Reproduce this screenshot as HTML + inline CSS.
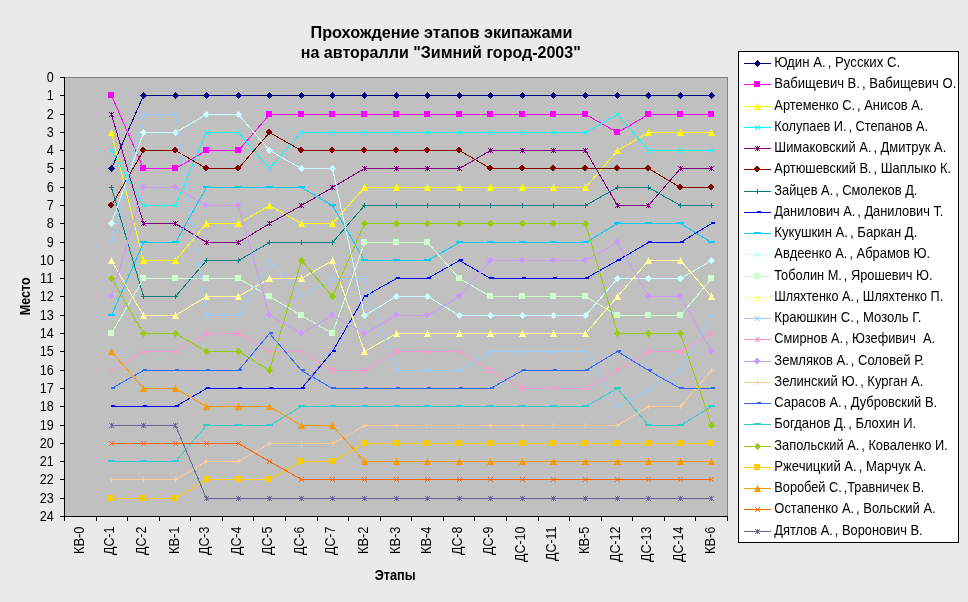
<!DOCTYPE html>
<html lang="ru"><head><meta charset="utf-8"><title>Прохождение этапов экипажами</title>
<style>html,body{margin:0;padding:0;background:#EAEAEA;}body{width:968px;height:602px;overflow:hidden}svg{display:block}</style>
</head><body>
<svg width="968" height="602" viewBox="0 0 968 602" font-family="'Liberation Sans', sans-serif" font-size="13.9" fill="#000">
<rect width="968" height="602" fill="#EAEAEA"/>
<rect x="64" y="77" width="664" height="440" fill="#C0C0C0"/>
<g shape-rendering="crispEdges">
<rect x="64.5" y="77.5" width="663" height="439" fill="none" stroke="#808080"/>
<rect x="64" y="77" width="1" height="440" fill="#000"/>
<rect x="64" y="516" width="664" height="1" fill="#000"/>
<rect x="60" y="77" width="4" height="1" fill="#000"/>
<rect x="60" y="95" width="4" height="1" fill="#000"/>
<rect x="60" y="114" width="4" height="1" fill="#000"/>
<rect x="60" y="132" width="4" height="1" fill="#000"/>
<rect x="60" y="150" width="4" height="1" fill="#000"/>
<rect x="60" y="168" width="4" height="1" fill="#000"/>
<rect x="60" y="187" width="4" height="1" fill="#000"/>
<rect x="60" y="205" width="4" height="1" fill="#000"/>
<rect x="60" y="223" width="4" height="1" fill="#000"/>
<rect x="60" y="242" width="4" height="1" fill="#000"/>
<rect x="60" y="260" width="4" height="1" fill="#000"/>
<rect x="60" y="278" width="4" height="1" fill="#000"/>
<rect x="60" y="296" width="4" height="1" fill="#000"/>
<rect x="60" y="315" width="4" height="1" fill="#000"/>
<rect x="60" y="333" width="4" height="1" fill="#000"/>
<rect x="60" y="351" width="4" height="1" fill="#000"/>
<rect x="60" y="370" width="4" height="1" fill="#000"/>
<rect x="60" y="388" width="4" height="1" fill="#000"/>
<rect x="60" y="406" width="4" height="1" fill="#000"/>
<rect x="60" y="425" width="4" height="1" fill="#000"/>
<rect x="60" y="443" width="4" height="1" fill="#000"/>
<rect x="60" y="461" width="4" height="1" fill="#000"/>
<rect x="60" y="479" width="4" height="1" fill="#000"/>
<rect x="60" y="498" width="4" height="1" fill="#000"/>
<rect x="60" y="516" width="4" height="1" fill="#000"/>
<rect x="64" y="516" width="1" height="5" fill="#000"/>
<rect x="96" y="516" width="1" height="5" fill="#000"/>
<rect x="127" y="516" width="1" height="5" fill="#000"/>
<rect x="159" y="516" width="1" height="5" fill="#000"/>
<rect x="190" y="516" width="1" height="5" fill="#000"/>
<rect x="222" y="516" width="1" height="5" fill="#000"/>
<rect x="253" y="516" width="1" height="5" fill="#000"/>
<rect x="285" y="516" width="1" height="5" fill="#000"/>
<rect x="317" y="516" width="1" height="5" fill="#000"/>
<rect x="348" y="516" width="1" height="5" fill="#000"/>
<rect x="380" y="516" width="1" height="5" fill="#000"/>
<rect x="411" y="516" width="1" height="5" fill="#000"/>
<rect x="443" y="516" width="1" height="5" fill="#000"/>
<rect x="474" y="516" width="1" height="5" fill="#000"/>
<rect x="506" y="516" width="1" height="5" fill="#000"/>
<rect x="538" y="516" width="1" height="5" fill="#000"/>
<rect x="569" y="516" width="1" height="5" fill="#000"/>
<rect x="601" y="516" width="1" height="5" fill="#000"/>
<rect x="632" y="516" width="1" height="5" fill="#000"/>
<rect x="664" y="516" width="1" height="5" fill="#000"/>
<rect x="695" y="516" width="1" height="5" fill="#000"/>
<rect x="727" y="516" width="1" height="5" fill="#000"/>
<polyline points="111.5,168.5 143.5,95.5 175.5,95.5 206.5,95.5 238.5,95.5 269.5,95.5 301.5,95.5 332.5,95.5 364.5,95.5 396.5,95.5 427.5,95.5 459.5,95.5 490.5,95.5 522.5,95.5 553.5,95.5 585.5,95.5 617.5,95.5 648.5,95.5 680.5,95.5 711.5,95.5" fill="none" stroke="#000080" stroke-width="1"/>
<path fill="#000080" d="M111 165h1v1h-1zM110 166h3v1h-3zM109 167h5v1h-5zM108 168h7v1h-7zM109 169h5v1h-5zM110 170h3v1h-3zM111 171h1v1h-1z"/>
<path fill="#000080" d="M143 92h1v1h-1zM142 93h3v1h-3zM141 94h5v1h-5zM140 95h7v1h-7zM141 96h5v1h-5zM142 97h3v1h-3zM143 98h1v1h-1z"/>
<path fill="#000080" d="M175 92h1v1h-1zM174 93h3v1h-3zM173 94h5v1h-5zM172 95h7v1h-7zM173 96h5v1h-5zM174 97h3v1h-3zM175 98h1v1h-1z"/>
<path fill="#000080" d="M206 92h1v1h-1zM205 93h3v1h-3zM204 94h5v1h-5zM203 95h7v1h-7zM204 96h5v1h-5zM205 97h3v1h-3zM206 98h1v1h-1z"/>
<path fill="#000080" d="M238 92h1v1h-1zM237 93h3v1h-3zM236 94h5v1h-5zM235 95h7v1h-7zM236 96h5v1h-5zM237 97h3v1h-3zM238 98h1v1h-1z"/>
<path fill="#000080" d="M269 92h1v1h-1zM268 93h3v1h-3zM267 94h5v1h-5zM266 95h7v1h-7zM267 96h5v1h-5zM268 97h3v1h-3zM269 98h1v1h-1z"/>
<path fill="#000080" d="M301 92h1v1h-1zM300 93h3v1h-3zM299 94h5v1h-5zM298 95h7v1h-7zM299 96h5v1h-5zM300 97h3v1h-3zM301 98h1v1h-1z"/>
<path fill="#000080" d="M332 92h1v1h-1zM331 93h3v1h-3zM330 94h5v1h-5zM329 95h7v1h-7zM330 96h5v1h-5zM331 97h3v1h-3zM332 98h1v1h-1z"/>
<path fill="#000080" d="M364 92h1v1h-1zM363 93h3v1h-3zM362 94h5v1h-5zM361 95h7v1h-7zM362 96h5v1h-5zM363 97h3v1h-3zM364 98h1v1h-1z"/>
<path fill="#000080" d="M396 92h1v1h-1zM395 93h3v1h-3zM394 94h5v1h-5zM393 95h7v1h-7zM394 96h5v1h-5zM395 97h3v1h-3zM396 98h1v1h-1z"/>
<path fill="#000080" d="M427 92h1v1h-1zM426 93h3v1h-3zM425 94h5v1h-5zM424 95h7v1h-7zM425 96h5v1h-5zM426 97h3v1h-3zM427 98h1v1h-1z"/>
<path fill="#000080" d="M459 92h1v1h-1zM458 93h3v1h-3zM457 94h5v1h-5zM456 95h7v1h-7zM457 96h5v1h-5zM458 97h3v1h-3zM459 98h1v1h-1z"/>
<path fill="#000080" d="M490 92h1v1h-1zM489 93h3v1h-3zM488 94h5v1h-5zM487 95h7v1h-7zM488 96h5v1h-5zM489 97h3v1h-3zM490 98h1v1h-1z"/>
<path fill="#000080" d="M522 92h1v1h-1zM521 93h3v1h-3zM520 94h5v1h-5zM519 95h7v1h-7zM520 96h5v1h-5zM521 97h3v1h-3zM522 98h1v1h-1z"/>
<path fill="#000080" d="M553 92h1v1h-1zM552 93h3v1h-3zM551 94h5v1h-5zM550 95h7v1h-7zM551 96h5v1h-5zM552 97h3v1h-3zM553 98h1v1h-1z"/>
<path fill="#000080" d="M585 92h1v1h-1zM584 93h3v1h-3zM583 94h5v1h-5zM582 95h7v1h-7zM583 96h5v1h-5zM584 97h3v1h-3zM585 98h1v1h-1z"/>
<path fill="#000080" d="M617 92h1v1h-1zM616 93h3v1h-3zM615 94h5v1h-5zM614 95h7v1h-7zM615 96h5v1h-5zM616 97h3v1h-3zM617 98h1v1h-1z"/>
<path fill="#000080" d="M648 92h1v1h-1zM647 93h3v1h-3zM646 94h5v1h-5zM645 95h7v1h-7zM646 96h5v1h-5zM647 97h3v1h-3zM648 98h1v1h-1z"/>
<path fill="#000080" d="M680 92h1v1h-1zM679 93h3v1h-3zM678 94h5v1h-5zM677 95h7v1h-7zM678 96h5v1h-5zM679 97h3v1h-3zM680 98h1v1h-1z"/>
<path fill="#000080" d="M711 92h1v1h-1zM710 93h3v1h-3zM709 94h5v1h-5zM708 95h7v1h-7zM709 96h5v1h-5zM710 97h3v1h-3zM711 98h1v1h-1z"/>
<polyline points="111.5,95.5 143.5,168.5 175.5,168.5 206.5,150.5 238.5,150.5 269.5,114.5 301.5,114.5 332.5,114.5 364.5,114.5 396.5,114.5 427.5,114.5 459.5,114.5 490.5,114.5 522.5,114.5 553.5,114.5 585.5,114.5 617.5,132.5 648.5,114.5 680.5,114.5 711.5,114.5" fill="none" stroke="#FF00FF" stroke-width="1"/>
<path fill="#FF00FF" d="M108 92h6v6h-6z"/>
<path fill="#FF00FF" d="M140 165h6v6h-6z"/>
<path fill="#FF00FF" d="M172 165h6v6h-6z"/>
<path fill="#FF00FF" d="M203 147h6v6h-6z"/>
<path fill="#FF00FF" d="M235 147h6v6h-6z"/>
<path fill="#FF00FF" d="M266 111h6v6h-6z"/>
<path fill="#FF00FF" d="M298 111h6v6h-6z"/>
<path fill="#FF00FF" d="M329 111h6v6h-6z"/>
<path fill="#FF00FF" d="M361 111h6v6h-6z"/>
<path fill="#FF00FF" d="M393 111h6v6h-6z"/>
<path fill="#FF00FF" d="M424 111h6v6h-6z"/>
<path fill="#FF00FF" d="M456 111h6v6h-6z"/>
<path fill="#FF00FF" d="M487 111h6v6h-6z"/>
<path fill="#FF00FF" d="M519 111h6v6h-6z"/>
<path fill="#FF00FF" d="M550 111h6v6h-6z"/>
<path fill="#FF00FF" d="M582 111h6v6h-6z"/>
<path fill="#FF00FF" d="M614 129h6v6h-6z"/>
<path fill="#FF00FF" d="M645 111h6v6h-6z"/>
<path fill="#FF00FF" d="M677 111h6v6h-6z"/>
<path fill="#FF00FF" d="M708 111h6v6h-6z"/>
<polyline points="111.5,132.5 143.5,260.5 175.5,260.5 206.5,223.5 238.5,223.5 269.5,205.5 301.5,223.5 332.5,223.5 364.5,187.5 396.5,187.5 427.5,187.5 459.5,187.5 490.5,187.5 522.5,187.5 553.5,187.5 585.5,187.5 617.5,150.5 648.5,132.5 680.5,132.5 711.5,132.5" fill="none" stroke="#FFFF00" stroke-width="1"/>
<path fill="#FFFF00" d="M111 129h1v1h-1zM111 130h1v1h-1zM110 131h3v1h-3zM110 132h3v1h-3zM109 133h5v1h-5zM109 134h5v1h-5zM108 135h7v1h-7z"/>
<path fill="#FFFF00" d="M143 257h1v1h-1zM143 258h1v1h-1zM142 259h3v1h-3zM142 260h3v1h-3zM141 261h5v1h-5zM141 262h5v1h-5zM140 263h7v1h-7z"/>
<path fill="#FFFF00" d="M175 257h1v1h-1zM175 258h1v1h-1zM174 259h3v1h-3zM174 260h3v1h-3zM173 261h5v1h-5zM173 262h5v1h-5zM172 263h7v1h-7z"/>
<path fill="#FFFF00" d="M206 220h1v1h-1zM206 221h1v1h-1zM205 222h3v1h-3zM205 223h3v1h-3zM204 224h5v1h-5zM204 225h5v1h-5zM203 226h7v1h-7z"/>
<path fill="#FFFF00" d="M238 220h1v1h-1zM238 221h1v1h-1zM237 222h3v1h-3zM237 223h3v1h-3zM236 224h5v1h-5zM236 225h5v1h-5zM235 226h7v1h-7z"/>
<path fill="#FFFF00" d="M269 202h1v1h-1zM269 203h1v1h-1zM268 204h3v1h-3zM268 205h3v1h-3zM267 206h5v1h-5zM267 207h5v1h-5zM266 208h7v1h-7z"/>
<path fill="#FFFF00" d="M301 220h1v1h-1zM301 221h1v1h-1zM300 222h3v1h-3zM300 223h3v1h-3zM299 224h5v1h-5zM299 225h5v1h-5zM298 226h7v1h-7z"/>
<path fill="#FFFF00" d="M332 220h1v1h-1zM332 221h1v1h-1zM331 222h3v1h-3zM331 223h3v1h-3zM330 224h5v1h-5zM330 225h5v1h-5zM329 226h7v1h-7z"/>
<path fill="#FFFF00" d="M364 184h1v1h-1zM364 185h1v1h-1zM363 186h3v1h-3zM363 187h3v1h-3zM362 188h5v1h-5zM362 189h5v1h-5zM361 190h7v1h-7z"/>
<path fill="#FFFF00" d="M396 184h1v1h-1zM396 185h1v1h-1zM395 186h3v1h-3zM395 187h3v1h-3zM394 188h5v1h-5zM394 189h5v1h-5zM393 190h7v1h-7z"/>
<path fill="#FFFF00" d="M427 184h1v1h-1zM427 185h1v1h-1zM426 186h3v1h-3zM426 187h3v1h-3zM425 188h5v1h-5zM425 189h5v1h-5zM424 190h7v1h-7z"/>
<path fill="#FFFF00" d="M459 184h1v1h-1zM459 185h1v1h-1zM458 186h3v1h-3zM458 187h3v1h-3zM457 188h5v1h-5zM457 189h5v1h-5zM456 190h7v1h-7z"/>
<path fill="#FFFF00" d="M490 184h1v1h-1zM490 185h1v1h-1zM489 186h3v1h-3zM489 187h3v1h-3zM488 188h5v1h-5zM488 189h5v1h-5zM487 190h7v1h-7z"/>
<path fill="#FFFF00" d="M522 184h1v1h-1zM522 185h1v1h-1zM521 186h3v1h-3zM521 187h3v1h-3zM520 188h5v1h-5zM520 189h5v1h-5zM519 190h7v1h-7z"/>
<path fill="#FFFF00" d="M553 184h1v1h-1zM553 185h1v1h-1zM552 186h3v1h-3zM552 187h3v1h-3zM551 188h5v1h-5zM551 189h5v1h-5zM550 190h7v1h-7z"/>
<path fill="#FFFF00" d="M585 184h1v1h-1zM585 185h1v1h-1zM584 186h3v1h-3zM584 187h3v1h-3zM583 188h5v1h-5zM583 189h5v1h-5zM582 190h7v1h-7z"/>
<path fill="#FFFF00" d="M617 147h1v1h-1zM617 148h1v1h-1zM616 149h3v1h-3zM616 150h3v1h-3zM615 151h5v1h-5zM615 152h5v1h-5zM614 153h7v1h-7z"/>
<path fill="#FFFF00" d="M648 129h1v1h-1zM648 130h1v1h-1zM647 131h3v1h-3zM647 132h3v1h-3zM646 133h5v1h-5zM646 134h5v1h-5zM645 135h7v1h-7z"/>
<path fill="#FFFF00" d="M680 129h1v1h-1zM680 130h1v1h-1zM679 131h3v1h-3zM679 132h3v1h-3zM678 133h5v1h-5zM678 134h5v1h-5zM677 135h7v1h-7z"/>
<path fill="#FFFF00" d="M711 129h1v1h-1zM711 130h1v1h-1zM710 131h3v1h-3zM710 132h3v1h-3zM709 133h5v1h-5zM709 134h5v1h-5zM708 135h7v1h-7z"/>
<polyline points="111.5,150.5 143.5,205.5 175.5,205.5 206.5,132.5 238.5,132.5 269.5,168.5 301.5,132.5 332.5,132.5 364.5,132.5 396.5,132.5 427.5,132.5 459.5,132.5 490.5,132.5 522.5,132.5 553.5,132.5 585.5,132.5 617.5,114.5 648.5,150.5 680.5,150.5 711.5,150.5" fill="none" stroke="#00FFFF" stroke-width="1"/>
<path fill="#00FFFF" d="M109 148h1v1h-1zM109 152h1v1h-1zM110 149h1v1h-1zM110 151h1v1h-1zM111 150h1v1h-1zM112 151h1v1h-1zM112 149h1v1h-1zM113 152h1v1h-1zM113 148h1v1h-1z"/>
<path fill="#00FFFF" d="M141 203h1v1h-1zM141 207h1v1h-1zM142 204h1v1h-1zM142 206h1v1h-1zM143 205h1v1h-1zM144 206h1v1h-1zM144 204h1v1h-1zM145 207h1v1h-1zM145 203h1v1h-1z"/>
<path fill="#00FFFF" d="M173 203h1v1h-1zM173 207h1v1h-1zM174 204h1v1h-1zM174 206h1v1h-1zM175 205h1v1h-1zM176 206h1v1h-1zM176 204h1v1h-1zM177 207h1v1h-1zM177 203h1v1h-1z"/>
<path fill="#00FFFF" d="M204 130h1v1h-1zM204 134h1v1h-1zM205 131h1v1h-1zM205 133h1v1h-1zM206 132h1v1h-1zM207 133h1v1h-1zM207 131h1v1h-1zM208 134h1v1h-1zM208 130h1v1h-1z"/>
<path fill="#00FFFF" d="M236 130h1v1h-1zM236 134h1v1h-1zM237 131h1v1h-1zM237 133h1v1h-1zM238 132h1v1h-1zM239 133h1v1h-1zM239 131h1v1h-1zM240 134h1v1h-1zM240 130h1v1h-1z"/>
<path fill="#00FFFF" d="M267 166h1v1h-1zM267 170h1v1h-1zM268 167h1v1h-1zM268 169h1v1h-1zM269 168h1v1h-1zM270 169h1v1h-1zM270 167h1v1h-1zM271 170h1v1h-1zM271 166h1v1h-1z"/>
<path fill="#00FFFF" d="M299 130h1v1h-1zM299 134h1v1h-1zM300 131h1v1h-1zM300 133h1v1h-1zM301 132h1v1h-1zM302 133h1v1h-1zM302 131h1v1h-1zM303 134h1v1h-1zM303 130h1v1h-1z"/>
<path fill="#00FFFF" d="M330 130h1v1h-1zM330 134h1v1h-1zM331 131h1v1h-1zM331 133h1v1h-1zM332 132h1v1h-1zM333 133h1v1h-1zM333 131h1v1h-1zM334 134h1v1h-1zM334 130h1v1h-1z"/>
<path fill="#00FFFF" d="M362 130h1v1h-1zM362 134h1v1h-1zM363 131h1v1h-1zM363 133h1v1h-1zM364 132h1v1h-1zM365 133h1v1h-1zM365 131h1v1h-1zM366 134h1v1h-1zM366 130h1v1h-1z"/>
<path fill="#00FFFF" d="M394 130h1v1h-1zM394 134h1v1h-1zM395 131h1v1h-1zM395 133h1v1h-1zM396 132h1v1h-1zM397 133h1v1h-1zM397 131h1v1h-1zM398 134h1v1h-1zM398 130h1v1h-1z"/>
<path fill="#00FFFF" d="M425 130h1v1h-1zM425 134h1v1h-1zM426 131h1v1h-1zM426 133h1v1h-1zM427 132h1v1h-1zM428 133h1v1h-1zM428 131h1v1h-1zM429 134h1v1h-1zM429 130h1v1h-1z"/>
<path fill="#00FFFF" d="M457 130h1v1h-1zM457 134h1v1h-1zM458 131h1v1h-1zM458 133h1v1h-1zM459 132h1v1h-1zM460 133h1v1h-1zM460 131h1v1h-1zM461 134h1v1h-1zM461 130h1v1h-1z"/>
<path fill="#00FFFF" d="M488 130h1v1h-1zM488 134h1v1h-1zM489 131h1v1h-1zM489 133h1v1h-1zM490 132h1v1h-1zM491 133h1v1h-1zM491 131h1v1h-1zM492 134h1v1h-1zM492 130h1v1h-1z"/>
<path fill="#00FFFF" d="M520 130h1v1h-1zM520 134h1v1h-1zM521 131h1v1h-1zM521 133h1v1h-1zM522 132h1v1h-1zM523 133h1v1h-1zM523 131h1v1h-1zM524 134h1v1h-1zM524 130h1v1h-1z"/>
<path fill="#00FFFF" d="M551 130h1v1h-1zM551 134h1v1h-1zM552 131h1v1h-1zM552 133h1v1h-1zM553 132h1v1h-1zM554 133h1v1h-1zM554 131h1v1h-1zM555 134h1v1h-1zM555 130h1v1h-1z"/>
<path fill="#00FFFF" d="M583 130h1v1h-1zM583 134h1v1h-1zM584 131h1v1h-1zM584 133h1v1h-1zM585 132h1v1h-1zM586 133h1v1h-1zM586 131h1v1h-1zM587 134h1v1h-1zM587 130h1v1h-1z"/>
<path fill="#00FFFF" d="M615 112h1v1h-1zM615 116h1v1h-1zM616 113h1v1h-1zM616 115h1v1h-1zM617 114h1v1h-1zM618 115h1v1h-1zM618 113h1v1h-1zM619 116h1v1h-1zM619 112h1v1h-1z"/>
<path fill="#00FFFF" d="M646 148h1v1h-1zM646 152h1v1h-1zM647 149h1v1h-1zM647 151h1v1h-1zM648 150h1v1h-1zM649 151h1v1h-1zM649 149h1v1h-1zM650 152h1v1h-1zM650 148h1v1h-1z"/>
<path fill="#00FFFF" d="M678 148h1v1h-1zM678 152h1v1h-1zM679 149h1v1h-1zM679 151h1v1h-1zM680 150h1v1h-1zM681 151h1v1h-1zM681 149h1v1h-1zM682 152h1v1h-1zM682 148h1v1h-1z"/>
<path fill="#00FFFF" d="M709 148h1v1h-1zM709 152h1v1h-1zM710 149h1v1h-1zM710 151h1v1h-1zM711 150h1v1h-1zM712 151h1v1h-1zM712 149h1v1h-1zM713 152h1v1h-1zM713 148h1v1h-1z"/>
<polyline points="111.5,114.5 143.5,223.5 175.5,223.5 206.5,242.5 238.5,242.5 269.5,223.5 301.5,205.5 332.5,187.5 364.5,168.5 396.5,168.5 427.5,168.5 459.5,168.5 490.5,150.5 522.5,150.5 553.5,150.5 585.5,150.5 617.5,205.5 648.5,205.5 680.5,168.5 711.5,168.5" fill="none" stroke="#800080" stroke-width="1"/>
<path fill="#800080" d="M109 112h1v1h-1zM109 116h1v1h-1zM110 113h1v1h-1zM110 115h1v1h-1zM111 114h1v1h-1zM112 115h1v1h-1zM112 113h1v1h-1zM113 116h1v1h-1zM113 112h1v1h-1zM111 112h1v5h-1z"/>
<path fill="#800080" d="M141 221h1v1h-1zM141 225h1v1h-1zM142 222h1v1h-1zM142 224h1v1h-1zM143 223h1v1h-1zM144 224h1v1h-1zM144 222h1v1h-1zM145 225h1v1h-1zM145 221h1v1h-1zM143 221h1v5h-1z"/>
<path fill="#800080" d="M173 221h1v1h-1zM173 225h1v1h-1zM174 222h1v1h-1zM174 224h1v1h-1zM175 223h1v1h-1zM176 224h1v1h-1zM176 222h1v1h-1zM177 225h1v1h-1zM177 221h1v1h-1zM175 221h1v5h-1z"/>
<path fill="#800080" d="M204 240h1v1h-1zM204 244h1v1h-1zM205 241h1v1h-1zM205 243h1v1h-1zM206 242h1v1h-1zM207 243h1v1h-1zM207 241h1v1h-1zM208 244h1v1h-1zM208 240h1v1h-1zM206 240h1v5h-1z"/>
<path fill="#800080" d="M236 240h1v1h-1zM236 244h1v1h-1zM237 241h1v1h-1zM237 243h1v1h-1zM238 242h1v1h-1zM239 243h1v1h-1zM239 241h1v1h-1zM240 244h1v1h-1zM240 240h1v1h-1zM238 240h1v5h-1z"/>
<path fill="#800080" d="M267 221h1v1h-1zM267 225h1v1h-1zM268 222h1v1h-1zM268 224h1v1h-1zM269 223h1v1h-1zM270 224h1v1h-1zM270 222h1v1h-1zM271 225h1v1h-1zM271 221h1v1h-1zM269 221h1v5h-1z"/>
<path fill="#800080" d="M299 203h1v1h-1zM299 207h1v1h-1zM300 204h1v1h-1zM300 206h1v1h-1zM301 205h1v1h-1zM302 206h1v1h-1zM302 204h1v1h-1zM303 207h1v1h-1zM303 203h1v1h-1zM301 203h1v5h-1z"/>
<path fill="#800080" d="M330 185h1v1h-1zM330 189h1v1h-1zM331 186h1v1h-1zM331 188h1v1h-1zM332 187h1v1h-1zM333 188h1v1h-1zM333 186h1v1h-1zM334 189h1v1h-1zM334 185h1v1h-1zM332 185h1v5h-1z"/>
<path fill="#800080" d="M362 166h1v1h-1zM362 170h1v1h-1zM363 167h1v1h-1zM363 169h1v1h-1zM364 168h1v1h-1zM365 169h1v1h-1zM365 167h1v1h-1zM366 170h1v1h-1zM366 166h1v1h-1zM364 166h1v5h-1z"/>
<path fill="#800080" d="M394 166h1v1h-1zM394 170h1v1h-1zM395 167h1v1h-1zM395 169h1v1h-1zM396 168h1v1h-1zM397 169h1v1h-1zM397 167h1v1h-1zM398 170h1v1h-1zM398 166h1v1h-1zM396 166h1v5h-1z"/>
<path fill="#800080" d="M425 166h1v1h-1zM425 170h1v1h-1zM426 167h1v1h-1zM426 169h1v1h-1zM427 168h1v1h-1zM428 169h1v1h-1zM428 167h1v1h-1zM429 170h1v1h-1zM429 166h1v1h-1zM427 166h1v5h-1z"/>
<path fill="#800080" d="M457 166h1v1h-1zM457 170h1v1h-1zM458 167h1v1h-1zM458 169h1v1h-1zM459 168h1v1h-1zM460 169h1v1h-1zM460 167h1v1h-1zM461 170h1v1h-1zM461 166h1v1h-1zM459 166h1v5h-1z"/>
<path fill="#800080" d="M488 148h1v1h-1zM488 152h1v1h-1zM489 149h1v1h-1zM489 151h1v1h-1zM490 150h1v1h-1zM491 151h1v1h-1zM491 149h1v1h-1zM492 152h1v1h-1zM492 148h1v1h-1zM490 148h1v5h-1z"/>
<path fill="#800080" d="M520 148h1v1h-1zM520 152h1v1h-1zM521 149h1v1h-1zM521 151h1v1h-1zM522 150h1v1h-1zM523 151h1v1h-1zM523 149h1v1h-1zM524 152h1v1h-1zM524 148h1v1h-1zM522 148h1v5h-1z"/>
<path fill="#800080" d="M551 148h1v1h-1zM551 152h1v1h-1zM552 149h1v1h-1zM552 151h1v1h-1zM553 150h1v1h-1zM554 151h1v1h-1zM554 149h1v1h-1zM555 152h1v1h-1zM555 148h1v1h-1zM553 148h1v5h-1z"/>
<path fill="#800080" d="M583 148h1v1h-1zM583 152h1v1h-1zM584 149h1v1h-1zM584 151h1v1h-1zM585 150h1v1h-1zM586 151h1v1h-1zM586 149h1v1h-1zM587 152h1v1h-1zM587 148h1v1h-1zM585 148h1v5h-1z"/>
<path fill="#800080" d="M615 203h1v1h-1zM615 207h1v1h-1zM616 204h1v1h-1zM616 206h1v1h-1zM617 205h1v1h-1zM618 206h1v1h-1zM618 204h1v1h-1zM619 207h1v1h-1zM619 203h1v1h-1zM617 203h1v5h-1z"/>
<path fill="#800080" d="M646 203h1v1h-1zM646 207h1v1h-1zM647 204h1v1h-1zM647 206h1v1h-1zM648 205h1v1h-1zM649 206h1v1h-1zM649 204h1v1h-1zM650 207h1v1h-1zM650 203h1v1h-1zM648 203h1v5h-1z"/>
<path fill="#800080" d="M678 166h1v1h-1zM678 170h1v1h-1zM679 167h1v1h-1zM679 169h1v1h-1zM680 168h1v1h-1zM681 169h1v1h-1zM681 167h1v1h-1zM682 170h1v1h-1zM682 166h1v1h-1zM680 166h1v5h-1z"/>
<path fill="#800080" d="M709 166h1v1h-1zM709 170h1v1h-1zM710 167h1v1h-1zM710 169h1v1h-1zM711 168h1v1h-1zM712 169h1v1h-1zM712 167h1v1h-1zM713 170h1v1h-1zM713 166h1v1h-1zM711 166h1v5h-1z"/>
<polyline points="111.5,205.5 143.5,150.5 175.5,150.5 206.5,168.5 238.5,168.5 269.5,132.5 301.5,150.5 332.5,150.5 364.5,150.5 396.5,150.5 427.5,150.5 459.5,150.5 490.5,168.5 522.5,168.5 553.5,168.5 585.5,168.5 617.5,168.5 648.5,168.5 680.5,187.5 711.5,187.5" fill="none" stroke="#800000" stroke-width="1"/>
<path fill="#800000" d="M110 202h2v1h-2zM109 203h4v1h-4zM108 204h6v1h-6zM108 205h6v1h-6zM109 206h4v1h-4zM110 207h2v1h-2z"/>
<path fill="#800000" d="M142 147h2v1h-2zM141 148h4v1h-4zM140 149h6v1h-6zM140 150h6v1h-6zM141 151h4v1h-4zM142 152h2v1h-2z"/>
<path fill="#800000" d="M174 147h2v1h-2zM173 148h4v1h-4zM172 149h6v1h-6zM172 150h6v1h-6zM173 151h4v1h-4zM174 152h2v1h-2z"/>
<path fill="#800000" d="M205 165h2v1h-2zM204 166h4v1h-4zM203 167h6v1h-6zM203 168h6v1h-6zM204 169h4v1h-4zM205 170h2v1h-2z"/>
<path fill="#800000" d="M237 165h2v1h-2zM236 166h4v1h-4zM235 167h6v1h-6zM235 168h6v1h-6zM236 169h4v1h-4zM237 170h2v1h-2z"/>
<path fill="#800000" d="M268 129h2v1h-2zM267 130h4v1h-4zM266 131h6v1h-6zM266 132h6v1h-6zM267 133h4v1h-4zM268 134h2v1h-2z"/>
<path fill="#800000" d="M300 147h2v1h-2zM299 148h4v1h-4zM298 149h6v1h-6zM298 150h6v1h-6zM299 151h4v1h-4zM300 152h2v1h-2z"/>
<path fill="#800000" d="M331 147h2v1h-2zM330 148h4v1h-4zM329 149h6v1h-6zM329 150h6v1h-6zM330 151h4v1h-4zM331 152h2v1h-2z"/>
<path fill="#800000" d="M363 147h2v1h-2zM362 148h4v1h-4zM361 149h6v1h-6zM361 150h6v1h-6zM362 151h4v1h-4zM363 152h2v1h-2z"/>
<path fill="#800000" d="M395 147h2v1h-2zM394 148h4v1h-4zM393 149h6v1h-6zM393 150h6v1h-6zM394 151h4v1h-4zM395 152h2v1h-2z"/>
<path fill="#800000" d="M426 147h2v1h-2zM425 148h4v1h-4zM424 149h6v1h-6zM424 150h6v1h-6zM425 151h4v1h-4zM426 152h2v1h-2z"/>
<path fill="#800000" d="M458 147h2v1h-2zM457 148h4v1h-4zM456 149h6v1h-6zM456 150h6v1h-6zM457 151h4v1h-4zM458 152h2v1h-2z"/>
<path fill="#800000" d="M489 165h2v1h-2zM488 166h4v1h-4zM487 167h6v1h-6zM487 168h6v1h-6zM488 169h4v1h-4zM489 170h2v1h-2z"/>
<path fill="#800000" d="M521 165h2v1h-2zM520 166h4v1h-4zM519 167h6v1h-6zM519 168h6v1h-6zM520 169h4v1h-4zM521 170h2v1h-2z"/>
<path fill="#800000" d="M552 165h2v1h-2zM551 166h4v1h-4zM550 167h6v1h-6zM550 168h6v1h-6zM551 169h4v1h-4zM552 170h2v1h-2z"/>
<path fill="#800000" d="M584 165h2v1h-2zM583 166h4v1h-4zM582 167h6v1h-6zM582 168h6v1h-6zM583 169h4v1h-4zM584 170h2v1h-2z"/>
<path fill="#800000" d="M616 165h2v1h-2zM615 166h4v1h-4zM614 167h6v1h-6zM614 168h6v1h-6zM615 169h4v1h-4zM616 170h2v1h-2z"/>
<path fill="#800000" d="M647 165h2v1h-2zM646 166h4v1h-4zM645 167h6v1h-6zM645 168h6v1h-6zM646 169h4v1h-4zM647 170h2v1h-2z"/>
<path fill="#800000" d="M679 184h2v1h-2zM678 185h4v1h-4zM677 186h6v1h-6zM677 187h6v1h-6zM678 188h4v1h-4zM679 189h2v1h-2z"/>
<path fill="#800000" d="M710 184h2v1h-2zM709 185h4v1h-4zM708 186h6v1h-6zM708 187h6v1h-6zM709 188h4v1h-4zM710 189h2v1h-2z"/>
<polyline points="111.5,187.5 143.5,296.5 175.5,296.5 206.5,260.5 238.5,260.5 269.5,242.5 301.5,242.5 332.5,242.5 364.5,205.5 396.5,205.5 427.5,205.5 459.5,205.5 490.5,205.5 522.5,205.5 553.5,205.5 585.5,205.5 617.5,187.5 648.5,187.5 680.5,205.5 711.5,205.5" fill="none" stroke="#008080" stroke-width="1"/>
<path fill="#008080" d="M111 185h1v5h-1zM109 187h5v1h-5z"/>
<path fill="#008080" d="M143 294h1v5h-1zM141 296h5v1h-5z"/>
<path fill="#008080" d="M175 294h1v5h-1zM173 296h5v1h-5z"/>
<path fill="#008080" d="M206 258h1v5h-1zM204 260h5v1h-5z"/>
<path fill="#008080" d="M238 258h1v5h-1zM236 260h5v1h-5z"/>
<path fill="#008080" d="M269 240h1v5h-1zM267 242h5v1h-5z"/>
<path fill="#008080" d="M301 240h1v5h-1zM299 242h5v1h-5z"/>
<path fill="#008080" d="M332 240h1v5h-1zM330 242h5v1h-5z"/>
<path fill="#008080" d="M364 203h1v5h-1zM362 205h5v1h-5z"/>
<path fill="#008080" d="M396 203h1v5h-1zM394 205h5v1h-5z"/>
<path fill="#008080" d="M427 203h1v5h-1zM425 205h5v1h-5z"/>
<path fill="#008080" d="M459 203h1v5h-1zM457 205h5v1h-5z"/>
<path fill="#008080" d="M490 203h1v5h-1zM488 205h5v1h-5z"/>
<path fill="#008080" d="M522 203h1v5h-1zM520 205h5v1h-5z"/>
<path fill="#008080" d="M553 203h1v5h-1zM551 205h5v1h-5z"/>
<path fill="#008080" d="M585 203h1v5h-1zM583 205h5v1h-5z"/>
<path fill="#008080" d="M617 185h1v5h-1zM615 187h5v1h-5z"/>
<path fill="#008080" d="M648 185h1v5h-1zM646 187h5v1h-5z"/>
<path fill="#008080" d="M680 203h1v5h-1zM678 205h5v1h-5z"/>
<path fill="#008080" d="M711 203h1v5h-1zM709 205h5v1h-5z"/>
<polyline points="111.5,406.5 143.5,406.5 175.5,406.5 206.5,388.5 238.5,388.5 269.5,388.5 301.5,388.5 332.5,351.5 364.5,296.5 396.5,278.5 427.5,278.5 459.5,260.5 490.5,278.5 522.5,278.5 553.5,278.5 585.5,278.5 617.5,260.5 648.5,242.5 680.5,242.5 711.5,223.5" fill="none" stroke="#0000FF" stroke-width="1"/>
<path fill="#0000FF" d="M111 405h4v2h-4z"/>
<path fill="#0000FF" d="M143 405h4v2h-4z"/>
<path fill="#0000FF" d="M175 405h4v2h-4z"/>
<path fill="#0000FF" d="M206 387h4v2h-4z"/>
<path fill="#0000FF" d="M238 387h4v2h-4z"/>
<path fill="#0000FF" d="M269 387h4v2h-4z"/>
<path fill="#0000FF" d="M301 387h4v2h-4z"/>
<path fill="#0000FF" d="M332 350h4v2h-4z"/>
<path fill="#0000FF" d="M364 295h4v2h-4z"/>
<path fill="#0000FF" d="M396 277h4v2h-4z"/>
<path fill="#0000FF" d="M427 277h4v2h-4z"/>
<path fill="#0000FF" d="M459 259h4v2h-4z"/>
<path fill="#0000FF" d="M490 277h4v2h-4z"/>
<path fill="#0000FF" d="M522 277h4v2h-4z"/>
<path fill="#0000FF" d="M553 277h4v2h-4z"/>
<path fill="#0000FF" d="M585 277h4v2h-4z"/>
<path fill="#0000FF" d="M617 259h4v2h-4z"/>
<path fill="#0000FF" d="M648 241h4v2h-4z"/>
<path fill="#0000FF" d="M680 241h4v2h-4z"/>
<path fill="#0000FF" d="M711 222h4v2h-4z"/>
<polyline points="111.5,315.5 143.5,242.5 175.5,242.5 206.5,187.5 238.5,187.5 269.5,187.5 301.5,187.5 332.5,205.5 364.5,260.5 396.5,260.5 427.5,260.5 459.5,242.5 490.5,242.5 522.5,242.5 553.5,242.5 585.5,242.5 617.5,223.5 648.5,223.5 680.5,223.5 711.5,242.5" fill="none" stroke="#00CCFF" stroke-width="1"/>
<path fill="#00CCFF" d="M108 314h7v2h-7z"/>
<path fill="#00CCFF" d="M140 241h7v2h-7z"/>
<path fill="#00CCFF" d="M172 241h7v2h-7z"/>
<path fill="#00CCFF" d="M203 186h7v2h-7z"/>
<path fill="#00CCFF" d="M235 186h7v2h-7z"/>
<path fill="#00CCFF" d="M266 186h7v2h-7z"/>
<path fill="#00CCFF" d="M298 186h7v2h-7z"/>
<path fill="#00CCFF" d="M329 204h7v2h-7z"/>
<path fill="#00CCFF" d="M361 259h7v2h-7z"/>
<path fill="#00CCFF" d="M393 259h7v2h-7z"/>
<path fill="#00CCFF" d="M424 259h7v2h-7z"/>
<path fill="#00CCFF" d="M456 241h7v2h-7z"/>
<path fill="#00CCFF" d="M487 241h7v2h-7z"/>
<path fill="#00CCFF" d="M519 241h7v2h-7z"/>
<path fill="#00CCFF" d="M550 241h7v2h-7z"/>
<path fill="#00CCFF" d="M582 241h7v2h-7z"/>
<path fill="#00CCFF" d="M614 222h7v2h-7z"/>
<path fill="#00CCFF" d="M645 222h7v2h-7z"/>
<path fill="#00CCFF" d="M677 222h7v2h-7z"/>
<path fill="#00CCFF" d="M708 241h7v2h-7z"/>
<polyline points="111.5,223.5 143.5,132.5 175.5,132.5 206.5,114.5 238.5,114.5 269.5,150.5 301.5,168.5 332.5,168.5 364.5,315.5 396.5,296.5 427.5,296.5 459.5,315.5 490.5,315.5 522.5,315.5 553.5,315.5 585.5,315.5 617.5,278.5 648.5,278.5 680.5,278.5 711.5,260.5" fill="none" stroke="#CCFFFF" stroke-width="1"/>
<path fill="#CCFFFF" d="M111 220h1v1h-1zM110 221h3v1h-3zM109 222h5v1h-5zM108 223h7v1h-7zM109 224h5v1h-5zM110 225h3v1h-3zM111 226h1v1h-1z"/>
<path fill="#CCFFFF" d="M143 129h1v1h-1zM142 130h3v1h-3zM141 131h5v1h-5zM140 132h7v1h-7zM141 133h5v1h-5zM142 134h3v1h-3zM143 135h1v1h-1z"/>
<path fill="#CCFFFF" d="M175 129h1v1h-1zM174 130h3v1h-3zM173 131h5v1h-5zM172 132h7v1h-7zM173 133h5v1h-5zM174 134h3v1h-3zM175 135h1v1h-1z"/>
<path fill="#CCFFFF" d="M206 111h1v1h-1zM205 112h3v1h-3zM204 113h5v1h-5zM203 114h7v1h-7zM204 115h5v1h-5zM205 116h3v1h-3zM206 117h1v1h-1z"/>
<path fill="#CCFFFF" d="M238 111h1v1h-1zM237 112h3v1h-3zM236 113h5v1h-5zM235 114h7v1h-7zM236 115h5v1h-5zM237 116h3v1h-3zM238 117h1v1h-1z"/>
<path fill="#CCFFFF" d="M269 147h1v1h-1zM268 148h3v1h-3zM267 149h5v1h-5zM266 150h7v1h-7zM267 151h5v1h-5zM268 152h3v1h-3zM269 153h1v1h-1z"/>
<path fill="#CCFFFF" d="M301 165h1v1h-1zM300 166h3v1h-3zM299 167h5v1h-5zM298 168h7v1h-7zM299 169h5v1h-5zM300 170h3v1h-3zM301 171h1v1h-1z"/>
<path fill="#CCFFFF" d="M332 165h1v1h-1zM331 166h3v1h-3zM330 167h5v1h-5zM329 168h7v1h-7zM330 169h5v1h-5zM331 170h3v1h-3zM332 171h1v1h-1z"/>
<path fill="#CCFFFF" d="M364 312h1v1h-1zM363 313h3v1h-3zM362 314h5v1h-5zM361 315h7v1h-7zM362 316h5v1h-5zM363 317h3v1h-3zM364 318h1v1h-1z"/>
<path fill="#CCFFFF" d="M396 293h1v1h-1zM395 294h3v1h-3zM394 295h5v1h-5zM393 296h7v1h-7zM394 297h5v1h-5zM395 298h3v1h-3zM396 299h1v1h-1z"/>
<path fill="#CCFFFF" d="M427 293h1v1h-1zM426 294h3v1h-3zM425 295h5v1h-5zM424 296h7v1h-7zM425 297h5v1h-5zM426 298h3v1h-3zM427 299h1v1h-1z"/>
<path fill="#CCFFFF" d="M459 312h1v1h-1zM458 313h3v1h-3zM457 314h5v1h-5zM456 315h7v1h-7zM457 316h5v1h-5zM458 317h3v1h-3zM459 318h1v1h-1z"/>
<path fill="#CCFFFF" d="M490 312h1v1h-1zM489 313h3v1h-3zM488 314h5v1h-5zM487 315h7v1h-7zM488 316h5v1h-5zM489 317h3v1h-3zM490 318h1v1h-1z"/>
<path fill="#CCFFFF" d="M522 312h1v1h-1zM521 313h3v1h-3zM520 314h5v1h-5zM519 315h7v1h-7zM520 316h5v1h-5zM521 317h3v1h-3zM522 318h1v1h-1z"/>
<path fill="#CCFFFF" d="M553 312h1v1h-1zM552 313h3v1h-3zM551 314h5v1h-5zM550 315h7v1h-7zM551 316h5v1h-5zM552 317h3v1h-3zM553 318h1v1h-1z"/>
<path fill="#CCFFFF" d="M585 312h1v1h-1zM584 313h3v1h-3zM583 314h5v1h-5zM582 315h7v1h-7zM583 316h5v1h-5zM584 317h3v1h-3zM585 318h1v1h-1z"/>
<path fill="#CCFFFF" d="M617 275h1v1h-1zM616 276h3v1h-3zM615 277h5v1h-5zM614 278h7v1h-7zM615 279h5v1h-5zM616 280h3v1h-3zM617 281h1v1h-1z"/>
<path fill="#CCFFFF" d="M648 275h1v1h-1zM647 276h3v1h-3zM646 277h5v1h-5zM645 278h7v1h-7zM646 279h5v1h-5zM647 280h3v1h-3zM648 281h1v1h-1z"/>
<path fill="#CCFFFF" d="M680 275h1v1h-1zM679 276h3v1h-3zM678 277h5v1h-5zM677 278h7v1h-7zM678 279h5v1h-5zM679 280h3v1h-3zM680 281h1v1h-1z"/>
<path fill="#CCFFFF" d="M711 257h1v1h-1zM710 258h3v1h-3zM709 259h5v1h-5zM708 260h7v1h-7zM709 261h5v1h-5zM710 262h3v1h-3zM711 263h1v1h-1z"/>
<polyline points="111.5,333.5 143.5,278.5 175.5,278.5 206.5,278.5 238.5,278.5 269.5,296.5 301.5,315.5 332.5,333.5 364.5,242.5 396.5,242.5 427.5,242.5 459.5,278.5 490.5,296.5 522.5,296.5 553.5,296.5 585.5,296.5 617.5,315.5 648.5,315.5 680.5,315.5 711.5,278.5" fill="none" stroke="#CCFFCC" stroke-width="1"/>
<path fill="#CCFFCC" d="M108 330h6v6h-6z"/>
<path fill="#CCFFCC" d="M140 275h6v6h-6z"/>
<path fill="#CCFFCC" d="M172 275h6v6h-6z"/>
<path fill="#CCFFCC" d="M203 275h6v6h-6z"/>
<path fill="#CCFFCC" d="M235 275h6v6h-6z"/>
<path fill="#CCFFCC" d="M266 293h6v6h-6z"/>
<path fill="#CCFFCC" d="M298 312h6v6h-6z"/>
<path fill="#CCFFCC" d="M329 330h6v6h-6z"/>
<path fill="#CCFFCC" d="M361 239h6v6h-6z"/>
<path fill="#CCFFCC" d="M393 239h6v6h-6z"/>
<path fill="#CCFFCC" d="M424 239h6v6h-6z"/>
<path fill="#CCFFCC" d="M456 275h6v6h-6z"/>
<path fill="#CCFFCC" d="M487 293h6v6h-6z"/>
<path fill="#CCFFCC" d="M519 293h6v6h-6z"/>
<path fill="#CCFFCC" d="M550 293h6v6h-6z"/>
<path fill="#CCFFCC" d="M582 293h6v6h-6z"/>
<path fill="#CCFFCC" d="M614 312h6v6h-6z"/>
<path fill="#CCFFCC" d="M645 312h6v6h-6z"/>
<path fill="#CCFFCC" d="M677 312h6v6h-6z"/>
<path fill="#CCFFCC" d="M708 275h6v6h-6z"/>
<polyline points="111.5,260.5 143.5,315.5 175.5,315.5 206.5,296.5 238.5,296.5 269.5,278.5 301.5,278.5 332.5,260.5 364.5,351.5 396.5,333.5 427.5,333.5 459.5,333.5 490.5,333.5 522.5,333.5 553.5,333.5 585.5,333.5 617.5,296.5 648.5,260.5 680.5,260.5 711.5,296.5" fill="none" stroke="#FFFF99" stroke-width="1"/>
<path fill="#FFFF99" d="M111 257h1v1h-1zM111 258h1v1h-1zM110 259h3v1h-3zM110 260h3v1h-3zM109 261h5v1h-5zM109 262h5v1h-5zM108 263h7v1h-7z"/>
<path fill="#FFFF99" d="M143 312h1v1h-1zM143 313h1v1h-1zM142 314h3v1h-3zM142 315h3v1h-3zM141 316h5v1h-5zM141 317h5v1h-5zM140 318h7v1h-7z"/>
<path fill="#FFFF99" d="M175 312h1v1h-1zM175 313h1v1h-1zM174 314h3v1h-3zM174 315h3v1h-3zM173 316h5v1h-5zM173 317h5v1h-5zM172 318h7v1h-7z"/>
<path fill="#FFFF99" d="M206 293h1v1h-1zM206 294h1v1h-1zM205 295h3v1h-3zM205 296h3v1h-3zM204 297h5v1h-5zM204 298h5v1h-5zM203 299h7v1h-7z"/>
<path fill="#FFFF99" d="M238 293h1v1h-1zM238 294h1v1h-1zM237 295h3v1h-3zM237 296h3v1h-3zM236 297h5v1h-5zM236 298h5v1h-5zM235 299h7v1h-7z"/>
<path fill="#FFFF99" d="M269 275h1v1h-1zM269 276h1v1h-1zM268 277h3v1h-3zM268 278h3v1h-3zM267 279h5v1h-5zM267 280h5v1h-5zM266 281h7v1h-7z"/>
<path fill="#FFFF99" d="M301 275h1v1h-1zM301 276h1v1h-1zM300 277h3v1h-3zM300 278h3v1h-3zM299 279h5v1h-5zM299 280h5v1h-5zM298 281h7v1h-7z"/>
<path fill="#FFFF99" d="M332 257h1v1h-1zM332 258h1v1h-1zM331 259h3v1h-3zM331 260h3v1h-3zM330 261h5v1h-5zM330 262h5v1h-5zM329 263h7v1h-7z"/>
<path fill="#FFFF99" d="M364 348h1v1h-1zM364 349h1v1h-1zM363 350h3v1h-3zM363 351h3v1h-3zM362 352h5v1h-5zM362 353h5v1h-5zM361 354h7v1h-7z"/>
<path fill="#FFFF99" d="M396 330h1v1h-1zM396 331h1v1h-1zM395 332h3v1h-3zM395 333h3v1h-3zM394 334h5v1h-5zM394 335h5v1h-5zM393 336h7v1h-7z"/>
<path fill="#FFFF99" d="M427 330h1v1h-1zM427 331h1v1h-1zM426 332h3v1h-3zM426 333h3v1h-3zM425 334h5v1h-5zM425 335h5v1h-5zM424 336h7v1h-7z"/>
<path fill="#FFFF99" d="M459 330h1v1h-1zM459 331h1v1h-1zM458 332h3v1h-3zM458 333h3v1h-3zM457 334h5v1h-5zM457 335h5v1h-5zM456 336h7v1h-7z"/>
<path fill="#FFFF99" d="M490 330h1v1h-1zM490 331h1v1h-1zM489 332h3v1h-3zM489 333h3v1h-3zM488 334h5v1h-5zM488 335h5v1h-5zM487 336h7v1h-7z"/>
<path fill="#FFFF99" d="M522 330h1v1h-1zM522 331h1v1h-1zM521 332h3v1h-3zM521 333h3v1h-3zM520 334h5v1h-5zM520 335h5v1h-5zM519 336h7v1h-7z"/>
<path fill="#FFFF99" d="M553 330h1v1h-1zM553 331h1v1h-1zM552 332h3v1h-3zM552 333h3v1h-3zM551 334h5v1h-5zM551 335h5v1h-5zM550 336h7v1h-7z"/>
<path fill="#FFFF99" d="M585 330h1v1h-1zM585 331h1v1h-1zM584 332h3v1h-3zM584 333h3v1h-3zM583 334h5v1h-5zM583 335h5v1h-5zM582 336h7v1h-7z"/>
<path fill="#FFFF99" d="M617 293h1v1h-1zM617 294h1v1h-1zM616 295h3v1h-3zM616 296h3v1h-3zM615 297h5v1h-5zM615 298h5v1h-5zM614 299h7v1h-7z"/>
<path fill="#FFFF99" d="M648 257h1v1h-1zM648 258h1v1h-1zM647 259h3v1h-3zM647 260h3v1h-3zM646 261h5v1h-5zM646 262h5v1h-5zM645 263h7v1h-7z"/>
<path fill="#FFFF99" d="M680 257h1v1h-1zM680 258h1v1h-1zM679 259h3v1h-3zM679 260h3v1h-3zM678 261h5v1h-5zM678 262h5v1h-5zM677 263h7v1h-7z"/>
<path fill="#FFFF99" d="M711 293h1v1h-1zM711 294h1v1h-1zM710 295h3v1h-3zM710 296h3v1h-3zM709 297h5v1h-5zM709 298h5v1h-5zM708 299h7v1h-7z"/>
<polyline points="111.5,242.5 143.5,114.5 175.5,114.5 206.5,315.5 238.5,315.5 269.5,260.5 301.5,296.5 332.5,278.5 364.5,278.5 396.5,370.5 427.5,370.5 459.5,370.5 490.5,351.5 522.5,351.5 553.5,351.5 585.5,351.5 617.5,406.5 648.5,388.5 680.5,370.5 711.5,315.5" fill="none" stroke="#99CCFF" stroke-width="1"/>
<path fill="#99CCFF" d="M109 240h1v1h-1zM109 244h1v1h-1zM110 241h1v1h-1zM110 243h1v1h-1zM111 242h1v1h-1zM112 243h1v1h-1zM112 241h1v1h-1zM113 244h1v1h-1zM113 240h1v1h-1z"/>
<path fill="#99CCFF" d="M141 112h1v1h-1zM141 116h1v1h-1zM142 113h1v1h-1zM142 115h1v1h-1zM143 114h1v1h-1zM144 115h1v1h-1zM144 113h1v1h-1zM145 116h1v1h-1zM145 112h1v1h-1z"/>
<path fill="#99CCFF" d="M173 112h1v1h-1zM173 116h1v1h-1zM174 113h1v1h-1zM174 115h1v1h-1zM175 114h1v1h-1zM176 115h1v1h-1zM176 113h1v1h-1zM177 116h1v1h-1zM177 112h1v1h-1z"/>
<path fill="#99CCFF" d="M204 313h1v1h-1zM204 317h1v1h-1zM205 314h1v1h-1zM205 316h1v1h-1zM206 315h1v1h-1zM207 316h1v1h-1zM207 314h1v1h-1zM208 317h1v1h-1zM208 313h1v1h-1z"/>
<path fill="#99CCFF" d="M236 313h1v1h-1zM236 317h1v1h-1zM237 314h1v1h-1zM237 316h1v1h-1zM238 315h1v1h-1zM239 316h1v1h-1zM239 314h1v1h-1zM240 317h1v1h-1zM240 313h1v1h-1z"/>
<path fill="#99CCFF" d="M267 258h1v1h-1zM267 262h1v1h-1zM268 259h1v1h-1zM268 261h1v1h-1zM269 260h1v1h-1zM270 261h1v1h-1zM270 259h1v1h-1zM271 262h1v1h-1zM271 258h1v1h-1z"/>
<path fill="#99CCFF" d="M299 294h1v1h-1zM299 298h1v1h-1zM300 295h1v1h-1zM300 297h1v1h-1zM301 296h1v1h-1zM302 297h1v1h-1zM302 295h1v1h-1zM303 298h1v1h-1zM303 294h1v1h-1z"/>
<path fill="#99CCFF" d="M330 276h1v1h-1zM330 280h1v1h-1zM331 277h1v1h-1zM331 279h1v1h-1zM332 278h1v1h-1zM333 279h1v1h-1zM333 277h1v1h-1zM334 280h1v1h-1zM334 276h1v1h-1z"/>
<path fill="#99CCFF" d="M362 276h1v1h-1zM362 280h1v1h-1zM363 277h1v1h-1zM363 279h1v1h-1zM364 278h1v1h-1zM365 279h1v1h-1zM365 277h1v1h-1zM366 280h1v1h-1zM366 276h1v1h-1z"/>
<path fill="#99CCFF" d="M394 368h1v1h-1zM394 372h1v1h-1zM395 369h1v1h-1zM395 371h1v1h-1zM396 370h1v1h-1zM397 371h1v1h-1zM397 369h1v1h-1zM398 372h1v1h-1zM398 368h1v1h-1z"/>
<path fill="#99CCFF" d="M425 368h1v1h-1zM425 372h1v1h-1zM426 369h1v1h-1zM426 371h1v1h-1zM427 370h1v1h-1zM428 371h1v1h-1zM428 369h1v1h-1zM429 372h1v1h-1zM429 368h1v1h-1z"/>
<path fill="#99CCFF" d="M457 368h1v1h-1zM457 372h1v1h-1zM458 369h1v1h-1zM458 371h1v1h-1zM459 370h1v1h-1zM460 371h1v1h-1zM460 369h1v1h-1zM461 372h1v1h-1zM461 368h1v1h-1z"/>
<path fill="#99CCFF" d="M488 349h1v1h-1zM488 353h1v1h-1zM489 350h1v1h-1zM489 352h1v1h-1zM490 351h1v1h-1zM491 352h1v1h-1zM491 350h1v1h-1zM492 353h1v1h-1zM492 349h1v1h-1z"/>
<path fill="#99CCFF" d="M520 349h1v1h-1zM520 353h1v1h-1zM521 350h1v1h-1zM521 352h1v1h-1zM522 351h1v1h-1zM523 352h1v1h-1zM523 350h1v1h-1zM524 353h1v1h-1zM524 349h1v1h-1z"/>
<path fill="#99CCFF" d="M551 349h1v1h-1zM551 353h1v1h-1zM552 350h1v1h-1zM552 352h1v1h-1zM553 351h1v1h-1zM554 352h1v1h-1zM554 350h1v1h-1zM555 353h1v1h-1zM555 349h1v1h-1z"/>
<path fill="#99CCFF" d="M583 349h1v1h-1zM583 353h1v1h-1zM584 350h1v1h-1zM584 352h1v1h-1zM585 351h1v1h-1zM586 352h1v1h-1zM586 350h1v1h-1zM587 353h1v1h-1zM587 349h1v1h-1z"/>
<path fill="#99CCFF" d="M615 404h1v1h-1zM615 408h1v1h-1zM616 405h1v1h-1zM616 407h1v1h-1zM617 406h1v1h-1zM618 407h1v1h-1zM618 405h1v1h-1zM619 408h1v1h-1zM619 404h1v1h-1z"/>
<path fill="#99CCFF" d="M646 386h1v1h-1zM646 390h1v1h-1zM647 387h1v1h-1zM647 389h1v1h-1zM648 388h1v1h-1zM649 389h1v1h-1zM649 387h1v1h-1zM650 390h1v1h-1zM650 386h1v1h-1z"/>
<path fill="#99CCFF" d="M678 368h1v1h-1zM678 372h1v1h-1zM679 369h1v1h-1zM679 371h1v1h-1zM680 370h1v1h-1zM681 371h1v1h-1zM681 369h1v1h-1zM682 372h1v1h-1zM682 368h1v1h-1z"/>
<path fill="#99CCFF" d="M709 313h1v1h-1zM709 317h1v1h-1zM710 314h1v1h-1zM710 316h1v1h-1zM711 315h1v1h-1zM712 316h1v1h-1zM712 314h1v1h-1zM713 317h1v1h-1zM713 313h1v1h-1z"/>
<polyline points="111.5,370.5 143.5,351.5 175.5,351.5 206.5,333.5 238.5,333.5 269.5,351.5 301.5,351.5 332.5,370.5 364.5,370.5 396.5,351.5 427.5,351.5 459.5,351.5 490.5,370.5 522.5,388.5 553.5,388.5 585.5,388.5 617.5,370.5 648.5,351.5 680.5,351.5 711.5,333.5" fill="none" stroke="#FF99CC" stroke-width="1"/>
<path fill="#FF99CC" d="M109 368h1v1h-1zM109 372h1v1h-1zM110 369h1v1h-1zM110 371h1v1h-1zM111 370h1v1h-1zM112 371h1v1h-1zM112 369h1v1h-1zM113 372h1v1h-1zM113 368h1v1h-1zM111 368h1v5h-1z"/>
<path fill="#FF99CC" d="M141 349h1v1h-1zM141 353h1v1h-1zM142 350h1v1h-1zM142 352h1v1h-1zM143 351h1v1h-1zM144 352h1v1h-1zM144 350h1v1h-1zM145 353h1v1h-1zM145 349h1v1h-1zM143 349h1v5h-1z"/>
<path fill="#FF99CC" d="M173 349h1v1h-1zM173 353h1v1h-1zM174 350h1v1h-1zM174 352h1v1h-1zM175 351h1v1h-1zM176 352h1v1h-1zM176 350h1v1h-1zM177 353h1v1h-1zM177 349h1v1h-1zM175 349h1v5h-1z"/>
<path fill="#FF99CC" d="M204 331h1v1h-1zM204 335h1v1h-1zM205 332h1v1h-1zM205 334h1v1h-1zM206 333h1v1h-1zM207 334h1v1h-1zM207 332h1v1h-1zM208 335h1v1h-1zM208 331h1v1h-1zM206 331h1v5h-1z"/>
<path fill="#FF99CC" d="M236 331h1v1h-1zM236 335h1v1h-1zM237 332h1v1h-1zM237 334h1v1h-1zM238 333h1v1h-1zM239 334h1v1h-1zM239 332h1v1h-1zM240 335h1v1h-1zM240 331h1v1h-1zM238 331h1v5h-1z"/>
<path fill="#FF99CC" d="M267 349h1v1h-1zM267 353h1v1h-1zM268 350h1v1h-1zM268 352h1v1h-1zM269 351h1v1h-1zM270 352h1v1h-1zM270 350h1v1h-1zM271 353h1v1h-1zM271 349h1v1h-1zM269 349h1v5h-1z"/>
<path fill="#FF99CC" d="M299 349h1v1h-1zM299 353h1v1h-1zM300 350h1v1h-1zM300 352h1v1h-1zM301 351h1v1h-1zM302 352h1v1h-1zM302 350h1v1h-1zM303 353h1v1h-1zM303 349h1v1h-1zM301 349h1v5h-1z"/>
<path fill="#FF99CC" d="M330 368h1v1h-1zM330 372h1v1h-1zM331 369h1v1h-1zM331 371h1v1h-1zM332 370h1v1h-1zM333 371h1v1h-1zM333 369h1v1h-1zM334 372h1v1h-1zM334 368h1v1h-1zM332 368h1v5h-1z"/>
<path fill="#FF99CC" d="M362 368h1v1h-1zM362 372h1v1h-1zM363 369h1v1h-1zM363 371h1v1h-1zM364 370h1v1h-1zM365 371h1v1h-1zM365 369h1v1h-1zM366 372h1v1h-1zM366 368h1v1h-1zM364 368h1v5h-1z"/>
<path fill="#FF99CC" d="M394 349h1v1h-1zM394 353h1v1h-1zM395 350h1v1h-1zM395 352h1v1h-1zM396 351h1v1h-1zM397 352h1v1h-1zM397 350h1v1h-1zM398 353h1v1h-1zM398 349h1v1h-1zM396 349h1v5h-1z"/>
<path fill="#FF99CC" d="M425 349h1v1h-1zM425 353h1v1h-1zM426 350h1v1h-1zM426 352h1v1h-1zM427 351h1v1h-1zM428 352h1v1h-1zM428 350h1v1h-1zM429 353h1v1h-1zM429 349h1v1h-1zM427 349h1v5h-1z"/>
<path fill="#FF99CC" d="M457 349h1v1h-1zM457 353h1v1h-1zM458 350h1v1h-1zM458 352h1v1h-1zM459 351h1v1h-1zM460 352h1v1h-1zM460 350h1v1h-1zM461 353h1v1h-1zM461 349h1v1h-1zM459 349h1v5h-1z"/>
<path fill="#FF99CC" d="M488 368h1v1h-1zM488 372h1v1h-1zM489 369h1v1h-1zM489 371h1v1h-1zM490 370h1v1h-1zM491 371h1v1h-1zM491 369h1v1h-1zM492 372h1v1h-1zM492 368h1v1h-1zM490 368h1v5h-1z"/>
<path fill="#FF99CC" d="M520 386h1v1h-1zM520 390h1v1h-1zM521 387h1v1h-1zM521 389h1v1h-1zM522 388h1v1h-1zM523 389h1v1h-1zM523 387h1v1h-1zM524 390h1v1h-1zM524 386h1v1h-1zM522 386h1v5h-1z"/>
<path fill="#FF99CC" d="M551 386h1v1h-1zM551 390h1v1h-1zM552 387h1v1h-1zM552 389h1v1h-1zM553 388h1v1h-1zM554 389h1v1h-1zM554 387h1v1h-1zM555 390h1v1h-1zM555 386h1v1h-1zM553 386h1v5h-1z"/>
<path fill="#FF99CC" d="M583 386h1v1h-1zM583 390h1v1h-1zM584 387h1v1h-1zM584 389h1v1h-1zM585 388h1v1h-1zM586 389h1v1h-1zM586 387h1v1h-1zM587 390h1v1h-1zM587 386h1v1h-1zM585 386h1v5h-1z"/>
<path fill="#FF99CC" d="M615 368h1v1h-1zM615 372h1v1h-1zM616 369h1v1h-1zM616 371h1v1h-1zM617 370h1v1h-1zM618 371h1v1h-1zM618 369h1v1h-1zM619 372h1v1h-1zM619 368h1v1h-1zM617 368h1v5h-1z"/>
<path fill="#FF99CC" d="M646 349h1v1h-1zM646 353h1v1h-1zM647 350h1v1h-1zM647 352h1v1h-1zM648 351h1v1h-1zM649 352h1v1h-1zM649 350h1v1h-1zM650 353h1v1h-1zM650 349h1v1h-1zM648 349h1v5h-1z"/>
<path fill="#FF99CC" d="M678 349h1v1h-1zM678 353h1v1h-1zM679 350h1v1h-1zM679 352h1v1h-1zM680 351h1v1h-1zM681 352h1v1h-1zM681 350h1v1h-1zM682 353h1v1h-1zM682 349h1v1h-1zM680 349h1v5h-1z"/>
<path fill="#FF99CC" d="M709 331h1v1h-1zM709 335h1v1h-1zM710 332h1v1h-1zM710 334h1v1h-1zM711 333h1v1h-1zM712 334h1v1h-1zM712 332h1v1h-1zM713 335h1v1h-1zM713 331h1v1h-1zM711 331h1v5h-1z"/>
<polyline points="111.5,296.5 143.5,187.5 175.5,187.5 206.5,205.5 238.5,205.5 269.5,315.5 301.5,333.5 332.5,315.5 364.5,333.5 396.5,315.5 427.5,315.5 459.5,296.5 490.5,260.5 522.5,260.5 553.5,260.5 585.5,260.5 617.5,242.5 648.5,296.5 680.5,296.5 711.5,351.5" fill="none" stroke="#CC99FF" stroke-width="1"/>
<path fill="#CC99FF" d="M110 293h2v1h-2zM109 294h4v1h-4zM108 295h6v1h-6zM108 296h6v1h-6zM109 297h4v1h-4zM110 298h2v1h-2z"/>
<path fill="#CC99FF" d="M142 184h2v1h-2zM141 185h4v1h-4zM140 186h6v1h-6zM140 187h6v1h-6zM141 188h4v1h-4zM142 189h2v1h-2z"/>
<path fill="#CC99FF" d="M174 184h2v1h-2zM173 185h4v1h-4zM172 186h6v1h-6zM172 187h6v1h-6zM173 188h4v1h-4zM174 189h2v1h-2z"/>
<path fill="#CC99FF" d="M205 202h2v1h-2zM204 203h4v1h-4zM203 204h6v1h-6zM203 205h6v1h-6zM204 206h4v1h-4zM205 207h2v1h-2z"/>
<path fill="#CC99FF" d="M237 202h2v1h-2zM236 203h4v1h-4zM235 204h6v1h-6zM235 205h6v1h-6zM236 206h4v1h-4zM237 207h2v1h-2z"/>
<path fill="#CC99FF" d="M268 312h2v1h-2zM267 313h4v1h-4zM266 314h6v1h-6zM266 315h6v1h-6zM267 316h4v1h-4zM268 317h2v1h-2z"/>
<path fill="#CC99FF" d="M300 330h2v1h-2zM299 331h4v1h-4zM298 332h6v1h-6zM298 333h6v1h-6zM299 334h4v1h-4zM300 335h2v1h-2z"/>
<path fill="#CC99FF" d="M331 312h2v1h-2zM330 313h4v1h-4zM329 314h6v1h-6zM329 315h6v1h-6zM330 316h4v1h-4zM331 317h2v1h-2z"/>
<path fill="#CC99FF" d="M363 330h2v1h-2zM362 331h4v1h-4zM361 332h6v1h-6zM361 333h6v1h-6zM362 334h4v1h-4zM363 335h2v1h-2z"/>
<path fill="#CC99FF" d="M395 312h2v1h-2zM394 313h4v1h-4zM393 314h6v1h-6zM393 315h6v1h-6zM394 316h4v1h-4zM395 317h2v1h-2z"/>
<path fill="#CC99FF" d="M426 312h2v1h-2zM425 313h4v1h-4zM424 314h6v1h-6zM424 315h6v1h-6zM425 316h4v1h-4zM426 317h2v1h-2z"/>
<path fill="#CC99FF" d="M458 293h2v1h-2zM457 294h4v1h-4zM456 295h6v1h-6zM456 296h6v1h-6zM457 297h4v1h-4zM458 298h2v1h-2z"/>
<path fill="#CC99FF" d="M489 257h2v1h-2zM488 258h4v1h-4zM487 259h6v1h-6zM487 260h6v1h-6zM488 261h4v1h-4zM489 262h2v1h-2z"/>
<path fill="#CC99FF" d="M521 257h2v1h-2zM520 258h4v1h-4zM519 259h6v1h-6zM519 260h6v1h-6zM520 261h4v1h-4zM521 262h2v1h-2z"/>
<path fill="#CC99FF" d="M552 257h2v1h-2zM551 258h4v1h-4zM550 259h6v1h-6zM550 260h6v1h-6zM551 261h4v1h-4zM552 262h2v1h-2z"/>
<path fill="#CC99FF" d="M584 257h2v1h-2zM583 258h4v1h-4zM582 259h6v1h-6zM582 260h6v1h-6zM583 261h4v1h-4zM584 262h2v1h-2z"/>
<path fill="#CC99FF" d="M616 239h2v1h-2zM615 240h4v1h-4zM614 241h6v1h-6zM614 242h6v1h-6zM615 243h4v1h-4zM616 244h2v1h-2z"/>
<path fill="#CC99FF" d="M647 293h2v1h-2zM646 294h4v1h-4zM645 295h6v1h-6zM645 296h6v1h-6zM646 297h4v1h-4zM647 298h2v1h-2z"/>
<path fill="#CC99FF" d="M679 293h2v1h-2zM678 294h4v1h-4zM677 295h6v1h-6zM677 296h6v1h-6zM678 297h4v1h-4zM679 298h2v1h-2z"/>
<path fill="#CC99FF" d="M710 348h2v1h-2zM709 349h4v1h-4zM708 350h6v1h-6zM708 351h6v1h-6zM709 352h4v1h-4zM710 353h2v1h-2z"/>
<polyline points="111.5,479.5 143.5,479.5 175.5,479.5 206.5,461.5 238.5,461.5 269.5,443.5 301.5,443.5 332.5,443.5 364.5,425.5 396.5,425.5 427.5,425.5 459.5,425.5 490.5,425.5 522.5,425.5 553.5,425.5 585.5,425.5 617.5,425.5 648.5,406.5 680.5,406.5 711.5,370.5" fill="none" stroke="#FFCC99" stroke-width="1"/>
<path fill="#FFCC99" d="M111 477h1v5h-1zM109 479h5v1h-5z"/>
<path fill="#FFCC99" d="M143 477h1v5h-1zM141 479h5v1h-5z"/>
<path fill="#FFCC99" d="M175 477h1v5h-1zM173 479h5v1h-5z"/>
<path fill="#FFCC99" d="M206 459h1v5h-1zM204 461h5v1h-5z"/>
<path fill="#FFCC99" d="M238 459h1v5h-1zM236 461h5v1h-5z"/>
<path fill="#FFCC99" d="M269 441h1v5h-1zM267 443h5v1h-5z"/>
<path fill="#FFCC99" d="M301 441h1v5h-1zM299 443h5v1h-5z"/>
<path fill="#FFCC99" d="M332 441h1v5h-1zM330 443h5v1h-5z"/>
<path fill="#FFCC99" d="M364 423h1v5h-1zM362 425h5v1h-5z"/>
<path fill="#FFCC99" d="M396 423h1v5h-1zM394 425h5v1h-5z"/>
<path fill="#FFCC99" d="M427 423h1v5h-1zM425 425h5v1h-5z"/>
<path fill="#FFCC99" d="M459 423h1v5h-1zM457 425h5v1h-5z"/>
<path fill="#FFCC99" d="M490 423h1v5h-1zM488 425h5v1h-5z"/>
<path fill="#FFCC99" d="M522 423h1v5h-1zM520 425h5v1h-5z"/>
<path fill="#FFCC99" d="M553 423h1v5h-1zM551 425h5v1h-5z"/>
<path fill="#FFCC99" d="M585 423h1v5h-1zM583 425h5v1h-5z"/>
<path fill="#FFCC99" d="M617 423h1v5h-1zM615 425h5v1h-5z"/>
<path fill="#FFCC99" d="M648 404h1v5h-1zM646 406h5v1h-5z"/>
<path fill="#FFCC99" d="M680 404h1v5h-1zM678 406h5v1h-5z"/>
<path fill="#FFCC99" d="M711 368h1v5h-1zM709 370h5v1h-5z"/>
<polyline points="111.5,388.5 143.5,370.5 175.5,370.5 206.5,370.5 238.5,370.5 269.5,333.5 301.5,370.5 332.5,388.5 364.5,388.5 396.5,388.5 427.5,388.5 459.5,388.5 490.5,388.5 522.5,370.5 553.5,370.5 585.5,370.5 617.5,351.5 648.5,370.5 680.5,388.5 711.5,388.5" fill="none" stroke="#3366FF" stroke-width="1"/>
<path fill="#3366FF" d="M111 387h4v2h-4z"/>
<path fill="#3366FF" d="M143 369h4v2h-4z"/>
<path fill="#3366FF" d="M175 369h4v2h-4z"/>
<path fill="#3366FF" d="M206 369h4v2h-4z"/>
<path fill="#3366FF" d="M238 369h4v2h-4z"/>
<path fill="#3366FF" d="M269 332h4v2h-4z"/>
<path fill="#3366FF" d="M301 369h4v2h-4z"/>
<path fill="#3366FF" d="M332 387h4v2h-4z"/>
<path fill="#3366FF" d="M364 387h4v2h-4z"/>
<path fill="#3366FF" d="M396 387h4v2h-4z"/>
<path fill="#3366FF" d="M427 387h4v2h-4z"/>
<path fill="#3366FF" d="M459 387h4v2h-4z"/>
<path fill="#3366FF" d="M490 387h4v2h-4z"/>
<path fill="#3366FF" d="M522 369h4v2h-4z"/>
<path fill="#3366FF" d="M553 369h4v2h-4z"/>
<path fill="#3366FF" d="M585 369h4v2h-4z"/>
<path fill="#3366FF" d="M617 350h4v2h-4z"/>
<path fill="#3366FF" d="M648 369h4v2h-4z"/>
<path fill="#3366FF" d="M680 387h4v2h-4z"/>
<path fill="#3366FF" d="M711 387h4v2h-4z"/>
<polyline points="111.5,461.5 143.5,461.5 175.5,461.5 206.5,425.5 238.5,425.5 269.5,425.5 301.5,406.5 332.5,406.5 364.5,406.5 396.5,406.5 427.5,406.5 459.5,406.5 490.5,406.5 522.5,406.5 553.5,406.5 585.5,406.5 617.5,388.5 648.5,425.5 680.5,425.5 711.5,406.5" fill="none" stroke="#33CCCC" stroke-width="1"/>
<path fill="#33CCCC" d="M108 460h7v2h-7z"/>
<path fill="#33CCCC" d="M140 460h7v2h-7z"/>
<path fill="#33CCCC" d="M172 460h7v2h-7z"/>
<path fill="#33CCCC" d="M203 424h7v2h-7z"/>
<path fill="#33CCCC" d="M235 424h7v2h-7z"/>
<path fill="#33CCCC" d="M266 424h7v2h-7z"/>
<path fill="#33CCCC" d="M298 405h7v2h-7z"/>
<path fill="#33CCCC" d="M329 405h7v2h-7z"/>
<path fill="#33CCCC" d="M361 405h7v2h-7z"/>
<path fill="#33CCCC" d="M393 405h7v2h-7z"/>
<path fill="#33CCCC" d="M424 405h7v2h-7z"/>
<path fill="#33CCCC" d="M456 405h7v2h-7z"/>
<path fill="#33CCCC" d="M487 405h7v2h-7z"/>
<path fill="#33CCCC" d="M519 405h7v2h-7z"/>
<path fill="#33CCCC" d="M550 405h7v2h-7z"/>
<path fill="#33CCCC" d="M582 405h7v2h-7z"/>
<path fill="#33CCCC" d="M614 387h7v2h-7z"/>
<path fill="#33CCCC" d="M645 424h7v2h-7z"/>
<path fill="#33CCCC" d="M677 424h7v2h-7z"/>
<path fill="#33CCCC" d="M708 405h7v2h-7z"/>
<polyline points="111.5,278.5 143.5,333.5 175.5,333.5 206.5,351.5 238.5,351.5 269.5,370.5 301.5,260.5 332.5,296.5 364.5,223.5 396.5,223.5 427.5,223.5 459.5,223.5 490.5,223.5 522.5,223.5 553.5,223.5 585.5,223.5 617.5,333.5 648.5,333.5 680.5,333.5 711.5,425.5" fill="none" stroke="#99CC00" stroke-width="1"/>
<path fill="#99CC00" d="M111 275h1v1h-1zM110 276h3v1h-3zM109 277h5v1h-5zM108 278h7v1h-7zM109 279h5v1h-5zM110 280h3v1h-3zM111 281h1v1h-1z"/>
<path fill="#99CC00" d="M143 330h1v1h-1zM142 331h3v1h-3zM141 332h5v1h-5zM140 333h7v1h-7zM141 334h5v1h-5zM142 335h3v1h-3zM143 336h1v1h-1z"/>
<path fill="#99CC00" d="M175 330h1v1h-1zM174 331h3v1h-3zM173 332h5v1h-5zM172 333h7v1h-7zM173 334h5v1h-5zM174 335h3v1h-3zM175 336h1v1h-1z"/>
<path fill="#99CC00" d="M206 348h1v1h-1zM205 349h3v1h-3zM204 350h5v1h-5zM203 351h7v1h-7zM204 352h5v1h-5zM205 353h3v1h-3zM206 354h1v1h-1z"/>
<path fill="#99CC00" d="M238 348h1v1h-1zM237 349h3v1h-3zM236 350h5v1h-5zM235 351h7v1h-7zM236 352h5v1h-5zM237 353h3v1h-3zM238 354h1v1h-1z"/>
<path fill="#99CC00" d="M269 367h1v1h-1zM268 368h3v1h-3zM267 369h5v1h-5zM266 370h7v1h-7zM267 371h5v1h-5zM268 372h3v1h-3zM269 373h1v1h-1z"/>
<path fill="#99CC00" d="M301 257h1v1h-1zM300 258h3v1h-3zM299 259h5v1h-5zM298 260h7v1h-7zM299 261h5v1h-5zM300 262h3v1h-3zM301 263h1v1h-1z"/>
<path fill="#99CC00" d="M332 293h1v1h-1zM331 294h3v1h-3zM330 295h5v1h-5zM329 296h7v1h-7zM330 297h5v1h-5zM331 298h3v1h-3zM332 299h1v1h-1z"/>
<path fill="#99CC00" d="M364 220h1v1h-1zM363 221h3v1h-3zM362 222h5v1h-5zM361 223h7v1h-7zM362 224h5v1h-5zM363 225h3v1h-3zM364 226h1v1h-1z"/>
<path fill="#99CC00" d="M396 220h1v1h-1zM395 221h3v1h-3zM394 222h5v1h-5zM393 223h7v1h-7zM394 224h5v1h-5zM395 225h3v1h-3zM396 226h1v1h-1z"/>
<path fill="#99CC00" d="M427 220h1v1h-1zM426 221h3v1h-3zM425 222h5v1h-5zM424 223h7v1h-7zM425 224h5v1h-5zM426 225h3v1h-3zM427 226h1v1h-1z"/>
<path fill="#99CC00" d="M459 220h1v1h-1zM458 221h3v1h-3zM457 222h5v1h-5zM456 223h7v1h-7zM457 224h5v1h-5zM458 225h3v1h-3zM459 226h1v1h-1z"/>
<path fill="#99CC00" d="M490 220h1v1h-1zM489 221h3v1h-3zM488 222h5v1h-5zM487 223h7v1h-7zM488 224h5v1h-5zM489 225h3v1h-3zM490 226h1v1h-1z"/>
<path fill="#99CC00" d="M522 220h1v1h-1zM521 221h3v1h-3zM520 222h5v1h-5zM519 223h7v1h-7zM520 224h5v1h-5zM521 225h3v1h-3zM522 226h1v1h-1z"/>
<path fill="#99CC00" d="M553 220h1v1h-1zM552 221h3v1h-3zM551 222h5v1h-5zM550 223h7v1h-7zM551 224h5v1h-5zM552 225h3v1h-3zM553 226h1v1h-1z"/>
<path fill="#99CC00" d="M585 220h1v1h-1zM584 221h3v1h-3zM583 222h5v1h-5zM582 223h7v1h-7zM583 224h5v1h-5zM584 225h3v1h-3zM585 226h1v1h-1z"/>
<path fill="#99CC00" d="M617 330h1v1h-1zM616 331h3v1h-3zM615 332h5v1h-5zM614 333h7v1h-7zM615 334h5v1h-5zM616 335h3v1h-3zM617 336h1v1h-1z"/>
<path fill="#99CC00" d="M648 330h1v1h-1zM647 331h3v1h-3zM646 332h5v1h-5zM645 333h7v1h-7zM646 334h5v1h-5zM647 335h3v1h-3zM648 336h1v1h-1z"/>
<path fill="#99CC00" d="M680 330h1v1h-1zM679 331h3v1h-3zM678 332h5v1h-5zM677 333h7v1h-7zM678 334h5v1h-5zM679 335h3v1h-3zM680 336h1v1h-1z"/>
<path fill="#99CC00" d="M711 422h1v1h-1zM710 423h3v1h-3zM709 424h5v1h-5zM708 425h7v1h-7zM709 426h5v1h-5zM710 427h3v1h-3zM711 428h1v1h-1z"/>
<polyline points="111.5,498.5 143.5,498.5 175.5,498.5 206.5,479.5 238.5,479.5 269.5,479.5 301.5,461.5 332.5,461.5 364.5,443.5 396.5,443.5 427.5,443.5 459.5,443.5 490.5,443.5 522.5,443.5 553.5,443.5 585.5,443.5 617.5,443.5 648.5,443.5 680.5,443.5 711.5,443.5" fill="none" stroke="#FFCC00" stroke-width="1"/>
<path fill="#FFCC00" d="M108 495h6v6h-6z"/>
<path fill="#FFCC00" d="M140 495h6v6h-6z"/>
<path fill="#FFCC00" d="M172 495h6v6h-6z"/>
<path fill="#FFCC00" d="M203 476h6v6h-6z"/>
<path fill="#FFCC00" d="M235 476h6v6h-6z"/>
<path fill="#FFCC00" d="M266 476h6v6h-6z"/>
<path fill="#FFCC00" d="M298 458h6v6h-6z"/>
<path fill="#FFCC00" d="M329 458h6v6h-6z"/>
<path fill="#FFCC00" d="M361 440h6v6h-6z"/>
<path fill="#FFCC00" d="M393 440h6v6h-6z"/>
<path fill="#FFCC00" d="M424 440h6v6h-6z"/>
<path fill="#FFCC00" d="M456 440h6v6h-6z"/>
<path fill="#FFCC00" d="M487 440h6v6h-6z"/>
<path fill="#FFCC00" d="M519 440h6v6h-6z"/>
<path fill="#FFCC00" d="M550 440h6v6h-6z"/>
<path fill="#FFCC00" d="M582 440h6v6h-6z"/>
<path fill="#FFCC00" d="M614 440h6v6h-6z"/>
<path fill="#FFCC00" d="M645 440h6v6h-6z"/>
<path fill="#FFCC00" d="M677 440h6v6h-6z"/>
<path fill="#FFCC00" d="M708 440h6v6h-6z"/>
<polyline points="111.5,351.5 143.5,388.5 175.5,388.5 206.5,406.5 238.5,406.5 269.5,406.5 301.5,425.5 332.5,425.5 364.5,461.5 396.5,461.5 427.5,461.5 459.5,461.5 490.5,461.5 522.5,461.5 553.5,461.5 585.5,461.5 617.5,461.5 648.5,461.5 680.5,461.5 711.5,461.5" fill="none" stroke="#FF9900" stroke-width="1"/>
<path fill="#FF9900" d="M111 348h1v1h-1zM111 349h1v1h-1zM110 350h3v1h-3zM110 351h3v1h-3zM109 352h5v1h-5zM109 353h5v1h-5zM108 354h7v1h-7z"/>
<path fill="#FF9900" d="M143 385h1v1h-1zM143 386h1v1h-1zM142 387h3v1h-3zM142 388h3v1h-3zM141 389h5v1h-5zM141 390h5v1h-5zM140 391h7v1h-7z"/>
<path fill="#FF9900" d="M175 385h1v1h-1zM175 386h1v1h-1zM174 387h3v1h-3zM174 388h3v1h-3zM173 389h5v1h-5zM173 390h5v1h-5zM172 391h7v1h-7z"/>
<path fill="#FF9900" d="M206 403h1v1h-1zM206 404h1v1h-1zM205 405h3v1h-3zM205 406h3v1h-3zM204 407h5v1h-5zM204 408h5v1h-5zM203 409h7v1h-7z"/>
<path fill="#FF9900" d="M238 403h1v1h-1zM238 404h1v1h-1zM237 405h3v1h-3zM237 406h3v1h-3zM236 407h5v1h-5zM236 408h5v1h-5zM235 409h7v1h-7z"/>
<path fill="#FF9900" d="M269 403h1v1h-1zM269 404h1v1h-1zM268 405h3v1h-3zM268 406h3v1h-3zM267 407h5v1h-5zM267 408h5v1h-5zM266 409h7v1h-7z"/>
<path fill="#FF9900" d="M301 422h1v1h-1zM301 423h1v1h-1zM300 424h3v1h-3zM300 425h3v1h-3zM299 426h5v1h-5zM299 427h5v1h-5zM298 428h7v1h-7z"/>
<path fill="#FF9900" d="M332 422h1v1h-1zM332 423h1v1h-1zM331 424h3v1h-3zM331 425h3v1h-3zM330 426h5v1h-5zM330 427h5v1h-5zM329 428h7v1h-7z"/>
<path fill="#FF9900" d="M364 458h1v1h-1zM364 459h1v1h-1zM363 460h3v1h-3zM363 461h3v1h-3zM362 462h5v1h-5zM362 463h5v1h-5zM361 464h7v1h-7z"/>
<path fill="#FF9900" d="M396 458h1v1h-1zM396 459h1v1h-1zM395 460h3v1h-3zM395 461h3v1h-3zM394 462h5v1h-5zM394 463h5v1h-5zM393 464h7v1h-7z"/>
<path fill="#FF9900" d="M427 458h1v1h-1zM427 459h1v1h-1zM426 460h3v1h-3zM426 461h3v1h-3zM425 462h5v1h-5zM425 463h5v1h-5zM424 464h7v1h-7z"/>
<path fill="#FF9900" d="M459 458h1v1h-1zM459 459h1v1h-1zM458 460h3v1h-3zM458 461h3v1h-3zM457 462h5v1h-5zM457 463h5v1h-5zM456 464h7v1h-7z"/>
<path fill="#FF9900" d="M490 458h1v1h-1zM490 459h1v1h-1zM489 460h3v1h-3zM489 461h3v1h-3zM488 462h5v1h-5zM488 463h5v1h-5zM487 464h7v1h-7z"/>
<path fill="#FF9900" d="M522 458h1v1h-1zM522 459h1v1h-1zM521 460h3v1h-3zM521 461h3v1h-3zM520 462h5v1h-5zM520 463h5v1h-5zM519 464h7v1h-7z"/>
<path fill="#FF9900" d="M553 458h1v1h-1zM553 459h1v1h-1zM552 460h3v1h-3zM552 461h3v1h-3zM551 462h5v1h-5zM551 463h5v1h-5zM550 464h7v1h-7z"/>
<path fill="#FF9900" d="M585 458h1v1h-1zM585 459h1v1h-1zM584 460h3v1h-3zM584 461h3v1h-3zM583 462h5v1h-5zM583 463h5v1h-5zM582 464h7v1h-7z"/>
<path fill="#FF9900" d="M617 458h1v1h-1zM617 459h1v1h-1zM616 460h3v1h-3zM616 461h3v1h-3zM615 462h5v1h-5zM615 463h5v1h-5zM614 464h7v1h-7z"/>
<path fill="#FF9900" d="M648 458h1v1h-1zM648 459h1v1h-1zM647 460h3v1h-3zM647 461h3v1h-3zM646 462h5v1h-5zM646 463h5v1h-5zM645 464h7v1h-7z"/>
<path fill="#FF9900" d="M680 458h1v1h-1zM680 459h1v1h-1zM679 460h3v1h-3zM679 461h3v1h-3zM678 462h5v1h-5zM678 463h5v1h-5zM677 464h7v1h-7z"/>
<path fill="#FF9900" d="M711 458h1v1h-1zM711 459h1v1h-1zM710 460h3v1h-3zM710 461h3v1h-3zM709 462h5v1h-5zM709 463h5v1h-5zM708 464h7v1h-7z"/>
<polyline points="111.5,443.5 143.5,443.5 175.5,443.5 206.5,443.5 238.5,443.5 269.5,461.5 301.5,479.5 332.5,479.5 364.5,479.5 396.5,479.5 427.5,479.5 459.5,479.5 490.5,479.5 522.5,479.5 553.5,479.5 585.5,479.5 617.5,479.5 648.5,479.5 680.5,479.5 711.5,479.5" fill="none" stroke="#FF6600" stroke-width="1"/>
<path fill="#FF6600" d="M109 441h1v1h-1zM109 445h1v1h-1zM110 442h1v1h-1zM110 444h1v1h-1zM111 443h1v1h-1zM112 444h1v1h-1zM112 442h1v1h-1zM113 445h1v1h-1zM113 441h1v1h-1z"/>
<path fill="#FF6600" d="M141 441h1v1h-1zM141 445h1v1h-1zM142 442h1v1h-1zM142 444h1v1h-1zM143 443h1v1h-1zM144 444h1v1h-1zM144 442h1v1h-1zM145 445h1v1h-1zM145 441h1v1h-1z"/>
<path fill="#FF6600" d="M173 441h1v1h-1zM173 445h1v1h-1zM174 442h1v1h-1zM174 444h1v1h-1zM175 443h1v1h-1zM176 444h1v1h-1zM176 442h1v1h-1zM177 445h1v1h-1zM177 441h1v1h-1z"/>
<path fill="#FF6600" d="M204 441h1v1h-1zM204 445h1v1h-1zM205 442h1v1h-1zM205 444h1v1h-1zM206 443h1v1h-1zM207 444h1v1h-1zM207 442h1v1h-1zM208 445h1v1h-1zM208 441h1v1h-1z"/>
<path fill="#FF6600" d="M236 441h1v1h-1zM236 445h1v1h-1zM237 442h1v1h-1zM237 444h1v1h-1zM238 443h1v1h-1zM239 444h1v1h-1zM239 442h1v1h-1zM240 445h1v1h-1zM240 441h1v1h-1z"/>
<path fill="#FF6600" d="M267 459h1v1h-1zM267 463h1v1h-1zM268 460h1v1h-1zM268 462h1v1h-1zM269 461h1v1h-1zM270 462h1v1h-1zM270 460h1v1h-1zM271 463h1v1h-1zM271 459h1v1h-1z"/>
<path fill="#FF6600" d="M299 477h1v1h-1zM299 481h1v1h-1zM300 478h1v1h-1zM300 480h1v1h-1zM301 479h1v1h-1zM302 480h1v1h-1zM302 478h1v1h-1zM303 481h1v1h-1zM303 477h1v1h-1z"/>
<path fill="#FF6600" d="M330 477h1v1h-1zM330 481h1v1h-1zM331 478h1v1h-1zM331 480h1v1h-1zM332 479h1v1h-1zM333 480h1v1h-1zM333 478h1v1h-1zM334 481h1v1h-1zM334 477h1v1h-1z"/>
<path fill="#FF6600" d="M362 477h1v1h-1zM362 481h1v1h-1zM363 478h1v1h-1zM363 480h1v1h-1zM364 479h1v1h-1zM365 480h1v1h-1zM365 478h1v1h-1zM366 481h1v1h-1zM366 477h1v1h-1z"/>
<path fill="#FF6600" d="M394 477h1v1h-1zM394 481h1v1h-1zM395 478h1v1h-1zM395 480h1v1h-1zM396 479h1v1h-1zM397 480h1v1h-1zM397 478h1v1h-1zM398 481h1v1h-1zM398 477h1v1h-1z"/>
<path fill="#FF6600" d="M425 477h1v1h-1zM425 481h1v1h-1zM426 478h1v1h-1zM426 480h1v1h-1zM427 479h1v1h-1zM428 480h1v1h-1zM428 478h1v1h-1zM429 481h1v1h-1zM429 477h1v1h-1z"/>
<path fill="#FF6600" d="M457 477h1v1h-1zM457 481h1v1h-1zM458 478h1v1h-1zM458 480h1v1h-1zM459 479h1v1h-1zM460 480h1v1h-1zM460 478h1v1h-1zM461 481h1v1h-1zM461 477h1v1h-1z"/>
<path fill="#FF6600" d="M488 477h1v1h-1zM488 481h1v1h-1zM489 478h1v1h-1zM489 480h1v1h-1zM490 479h1v1h-1zM491 480h1v1h-1zM491 478h1v1h-1zM492 481h1v1h-1zM492 477h1v1h-1z"/>
<path fill="#FF6600" d="M520 477h1v1h-1zM520 481h1v1h-1zM521 478h1v1h-1zM521 480h1v1h-1zM522 479h1v1h-1zM523 480h1v1h-1zM523 478h1v1h-1zM524 481h1v1h-1zM524 477h1v1h-1z"/>
<path fill="#FF6600" d="M551 477h1v1h-1zM551 481h1v1h-1zM552 478h1v1h-1zM552 480h1v1h-1zM553 479h1v1h-1zM554 480h1v1h-1zM554 478h1v1h-1zM555 481h1v1h-1zM555 477h1v1h-1z"/>
<path fill="#FF6600" d="M583 477h1v1h-1zM583 481h1v1h-1zM584 478h1v1h-1zM584 480h1v1h-1zM585 479h1v1h-1zM586 480h1v1h-1zM586 478h1v1h-1zM587 481h1v1h-1zM587 477h1v1h-1z"/>
<path fill="#FF6600" d="M615 477h1v1h-1zM615 481h1v1h-1zM616 478h1v1h-1zM616 480h1v1h-1zM617 479h1v1h-1zM618 480h1v1h-1zM618 478h1v1h-1zM619 481h1v1h-1zM619 477h1v1h-1z"/>
<path fill="#FF6600" d="M646 477h1v1h-1zM646 481h1v1h-1zM647 478h1v1h-1zM647 480h1v1h-1zM648 479h1v1h-1zM649 480h1v1h-1zM649 478h1v1h-1zM650 481h1v1h-1zM650 477h1v1h-1z"/>
<path fill="#FF6600" d="M678 477h1v1h-1zM678 481h1v1h-1zM679 478h1v1h-1zM679 480h1v1h-1zM680 479h1v1h-1zM681 480h1v1h-1zM681 478h1v1h-1zM682 481h1v1h-1zM682 477h1v1h-1z"/>
<path fill="#FF6600" d="M709 477h1v1h-1zM709 481h1v1h-1zM710 478h1v1h-1zM710 480h1v1h-1zM711 479h1v1h-1zM712 480h1v1h-1zM712 478h1v1h-1zM713 481h1v1h-1zM713 477h1v1h-1z"/>
<polyline points="111.5,425.5 143.5,425.5 175.5,425.5 206.5,498.5 238.5,498.5 269.5,498.5 301.5,498.5 332.5,498.5 364.5,498.5 396.5,498.5 427.5,498.5 459.5,498.5 490.5,498.5 522.5,498.5 553.5,498.5 585.5,498.5 617.5,498.5 648.5,498.5 680.5,498.5 711.5,498.5" fill="none" stroke="#666699" stroke-width="1"/>
<path fill="#666699" d="M109 423h1v1h-1zM109 427h1v1h-1zM110 424h1v1h-1zM110 426h1v1h-1zM111 425h1v1h-1zM112 426h1v1h-1zM112 424h1v1h-1zM113 427h1v1h-1zM113 423h1v1h-1zM111 423h1v5h-1z"/>
<path fill="#666699" d="M141 423h1v1h-1zM141 427h1v1h-1zM142 424h1v1h-1zM142 426h1v1h-1zM143 425h1v1h-1zM144 426h1v1h-1zM144 424h1v1h-1zM145 427h1v1h-1zM145 423h1v1h-1zM143 423h1v5h-1z"/>
<path fill="#666699" d="M173 423h1v1h-1zM173 427h1v1h-1zM174 424h1v1h-1zM174 426h1v1h-1zM175 425h1v1h-1zM176 426h1v1h-1zM176 424h1v1h-1zM177 427h1v1h-1zM177 423h1v1h-1zM175 423h1v5h-1z"/>
<path fill="#666699" d="M204 496h1v1h-1zM204 500h1v1h-1zM205 497h1v1h-1zM205 499h1v1h-1zM206 498h1v1h-1zM207 499h1v1h-1zM207 497h1v1h-1zM208 500h1v1h-1zM208 496h1v1h-1zM206 496h1v5h-1z"/>
<path fill="#666699" d="M236 496h1v1h-1zM236 500h1v1h-1zM237 497h1v1h-1zM237 499h1v1h-1zM238 498h1v1h-1zM239 499h1v1h-1zM239 497h1v1h-1zM240 500h1v1h-1zM240 496h1v1h-1zM238 496h1v5h-1z"/>
<path fill="#666699" d="M267 496h1v1h-1zM267 500h1v1h-1zM268 497h1v1h-1zM268 499h1v1h-1zM269 498h1v1h-1zM270 499h1v1h-1zM270 497h1v1h-1zM271 500h1v1h-1zM271 496h1v1h-1zM269 496h1v5h-1z"/>
<path fill="#666699" d="M299 496h1v1h-1zM299 500h1v1h-1zM300 497h1v1h-1zM300 499h1v1h-1zM301 498h1v1h-1zM302 499h1v1h-1zM302 497h1v1h-1zM303 500h1v1h-1zM303 496h1v1h-1zM301 496h1v5h-1z"/>
<path fill="#666699" d="M330 496h1v1h-1zM330 500h1v1h-1zM331 497h1v1h-1zM331 499h1v1h-1zM332 498h1v1h-1zM333 499h1v1h-1zM333 497h1v1h-1zM334 500h1v1h-1zM334 496h1v1h-1zM332 496h1v5h-1z"/>
<path fill="#666699" d="M362 496h1v1h-1zM362 500h1v1h-1zM363 497h1v1h-1zM363 499h1v1h-1zM364 498h1v1h-1zM365 499h1v1h-1zM365 497h1v1h-1zM366 500h1v1h-1zM366 496h1v1h-1zM364 496h1v5h-1z"/>
<path fill="#666699" d="M394 496h1v1h-1zM394 500h1v1h-1zM395 497h1v1h-1zM395 499h1v1h-1zM396 498h1v1h-1zM397 499h1v1h-1zM397 497h1v1h-1zM398 500h1v1h-1zM398 496h1v1h-1zM396 496h1v5h-1z"/>
<path fill="#666699" d="M425 496h1v1h-1zM425 500h1v1h-1zM426 497h1v1h-1zM426 499h1v1h-1zM427 498h1v1h-1zM428 499h1v1h-1zM428 497h1v1h-1zM429 500h1v1h-1zM429 496h1v1h-1zM427 496h1v5h-1z"/>
<path fill="#666699" d="M457 496h1v1h-1zM457 500h1v1h-1zM458 497h1v1h-1zM458 499h1v1h-1zM459 498h1v1h-1zM460 499h1v1h-1zM460 497h1v1h-1zM461 500h1v1h-1zM461 496h1v1h-1zM459 496h1v5h-1z"/>
<path fill="#666699" d="M488 496h1v1h-1zM488 500h1v1h-1zM489 497h1v1h-1zM489 499h1v1h-1zM490 498h1v1h-1zM491 499h1v1h-1zM491 497h1v1h-1zM492 500h1v1h-1zM492 496h1v1h-1zM490 496h1v5h-1z"/>
<path fill="#666699" d="M520 496h1v1h-1zM520 500h1v1h-1zM521 497h1v1h-1zM521 499h1v1h-1zM522 498h1v1h-1zM523 499h1v1h-1zM523 497h1v1h-1zM524 500h1v1h-1zM524 496h1v1h-1zM522 496h1v5h-1z"/>
<path fill="#666699" d="M551 496h1v1h-1zM551 500h1v1h-1zM552 497h1v1h-1zM552 499h1v1h-1zM553 498h1v1h-1zM554 499h1v1h-1zM554 497h1v1h-1zM555 500h1v1h-1zM555 496h1v1h-1zM553 496h1v5h-1z"/>
<path fill="#666699" d="M583 496h1v1h-1zM583 500h1v1h-1zM584 497h1v1h-1zM584 499h1v1h-1zM585 498h1v1h-1zM586 499h1v1h-1zM586 497h1v1h-1zM587 500h1v1h-1zM587 496h1v1h-1zM585 496h1v5h-1z"/>
<path fill="#666699" d="M615 496h1v1h-1zM615 500h1v1h-1zM616 497h1v1h-1zM616 499h1v1h-1zM617 498h1v1h-1zM618 499h1v1h-1zM618 497h1v1h-1zM619 500h1v1h-1zM619 496h1v1h-1zM617 496h1v5h-1z"/>
<path fill="#666699" d="M646 496h1v1h-1zM646 500h1v1h-1zM647 497h1v1h-1zM647 499h1v1h-1zM648 498h1v1h-1zM649 499h1v1h-1zM649 497h1v1h-1zM650 500h1v1h-1zM650 496h1v1h-1zM648 496h1v5h-1z"/>
<path fill="#666699" d="M678 496h1v1h-1zM678 500h1v1h-1zM679 497h1v1h-1zM679 499h1v1h-1zM680 498h1v1h-1zM681 499h1v1h-1zM681 497h1v1h-1zM682 500h1v1h-1zM682 496h1v1h-1zM680 496h1v5h-1z"/>
<path fill="#666699" d="M709 496h1v1h-1zM709 500h1v1h-1zM710 497h1v1h-1zM710 499h1v1h-1zM711 498h1v1h-1zM712 499h1v1h-1zM712 497h1v1h-1zM713 500h1v1h-1zM713 496h1v1h-1zM711 496h1v5h-1z"/>
</g>
<text x="53.7" y="81.9" text-anchor="end" textLength="7" lengthAdjust="spacingAndGlyphs">0</text>
<text x="53.7" y="99.9" text-anchor="end" textLength="7" lengthAdjust="spacingAndGlyphs">1</text>
<text x="53.7" y="118.9" text-anchor="end" textLength="7" lengthAdjust="spacingAndGlyphs">2</text>
<text x="53.7" y="136.9" text-anchor="end" textLength="7" lengthAdjust="spacingAndGlyphs">3</text>
<text x="53.7" y="154.9" text-anchor="end" textLength="7" lengthAdjust="spacingAndGlyphs">4</text>
<text x="53.7" y="172.9" text-anchor="end" textLength="7" lengthAdjust="spacingAndGlyphs">5</text>
<text x="53.7" y="191.9" text-anchor="end" textLength="7" lengthAdjust="spacingAndGlyphs">6</text>
<text x="53.7" y="209.9" text-anchor="end" textLength="7" lengthAdjust="spacingAndGlyphs">7</text>
<text x="53.7" y="227.9" text-anchor="end" textLength="7" lengthAdjust="spacingAndGlyphs">8</text>
<text x="53.7" y="246.9" text-anchor="end" textLength="7" lengthAdjust="spacingAndGlyphs">9</text>
<text x="53.7" y="264.9" text-anchor="end" textLength="14" lengthAdjust="spacingAndGlyphs">10</text>
<text x="53.7" y="282.9" text-anchor="end" textLength="14" lengthAdjust="spacingAndGlyphs">11</text>
<text x="53.7" y="300.9" text-anchor="end" textLength="14" lengthAdjust="spacingAndGlyphs">12</text>
<text x="53.7" y="319.9" text-anchor="end" textLength="14" lengthAdjust="spacingAndGlyphs">13</text>
<text x="53.7" y="337.9" text-anchor="end" textLength="14" lengthAdjust="spacingAndGlyphs">14</text>
<text x="53.7" y="355.9" text-anchor="end" textLength="14" lengthAdjust="spacingAndGlyphs">15</text>
<text x="53.7" y="374.9" text-anchor="end" textLength="14" lengthAdjust="spacingAndGlyphs">16</text>
<text x="53.7" y="392.9" text-anchor="end" textLength="14" lengthAdjust="spacingAndGlyphs">17</text>
<text x="53.7" y="410.9" text-anchor="end" textLength="14" lengthAdjust="spacingAndGlyphs">18</text>
<text x="53.7" y="429.9" text-anchor="end" textLength="14" lengthAdjust="spacingAndGlyphs">19</text>
<text x="53.7" y="447.9" text-anchor="end" textLength="14" lengthAdjust="spacingAndGlyphs">20</text>
<text x="53.7" y="465.9" text-anchor="end" textLength="14" lengthAdjust="spacingAndGlyphs">21</text>
<text x="53.7" y="483.9" text-anchor="end" textLength="14" lengthAdjust="spacingAndGlyphs">22</text>
<text x="53.7" y="502.9" text-anchor="end" textLength="14" lengthAdjust="spacingAndGlyphs">23</text>
<text x="53.7" y="520.9" text-anchor="end" textLength="14" lengthAdjust="spacingAndGlyphs">24</text>
<text transform="translate(84,526.6) rotate(-90)" text-anchor="end" textLength="27.5" lengthAdjust="spacingAndGlyphs">КВ-0</text>
<text transform="translate(114,526.6) rotate(-90)" text-anchor="end" textLength="28.4" lengthAdjust="spacingAndGlyphs">ДС-1</text>
<text transform="translate(146,526.6) rotate(-90)" text-anchor="end" textLength="28.4" lengthAdjust="spacingAndGlyphs">ДС-2</text>
<text transform="translate(179,526.6) rotate(-90)" text-anchor="end" textLength="27.5" lengthAdjust="spacingAndGlyphs">КВ-1</text>
<text transform="translate(209,526.6) rotate(-90)" text-anchor="end" textLength="28.4" lengthAdjust="spacingAndGlyphs">ДС-3</text>
<text transform="translate(241,526.6) rotate(-90)" text-anchor="end" textLength="28.4" lengthAdjust="spacingAndGlyphs">ДС-4</text>
<text transform="translate(272,526.6) rotate(-90)" text-anchor="end" textLength="28.4" lengthAdjust="spacingAndGlyphs">ДС-5</text>
<text transform="translate(304,526.6) rotate(-90)" text-anchor="end" textLength="28.4" lengthAdjust="spacingAndGlyphs">ДС-6</text>
<text transform="translate(335,526.6) rotate(-90)" text-anchor="end" textLength="28.4" lengthAdjust="spacingAndGlyphs">ДС-7</text>
<text transform="translate(368,526.6) rotate(-90)" text-anchor="end" textLength="27.5" lengthAdjust="spacingAndGlyphs">КВ-2</text>
<text transform="translate(400,526.6) rotate(-90)" text-anchor="end" textLength="27.5" lengthAdjust="spacingAndGlyphs">КВ-3</text>
<text transform="translate(431,526.6) rotate(-90)" text-anchor="end" textLength="27.5" lengthAdjust="spacingAndGlyphs">КВ-4</text>
<text transform="translate(462,526.6) rotate(-90)" text-anchor="end" textLength="28.4" lengthAdjust="spacingAndGlyphs">ДС-8</text>
<text transform="translate(493,526.6) rotate(-90)" text-anchor="end" textLength="28.4" lengthAdjust="spacingAndGlyphs">ДС-9</text>
<text transform="translate(525,526.6) rotate(-90)" text-anchor="end" textLength="35.3" lengthAdjust="spacingAndGlyphs">ДС-10</text>
<text transform="translate(556,526.6) rotate(-90)" text-anchor="end" textLength="34.3" lengthAdjust="spacingAndGlyphs">ДС-11</text>
<text transform="translate(589,526.6) rotate(-90)" text-anchor="end" textLength="27.5" lengthAdjust="spacingAndGlyphs">КВ-5</text>
<text transform="translate(620,526.6) rotate(-90)" text-anchor="end" textLength="35.3" lengthAdjust="spacingAndGlyphs">ДС-12</text>
<text transform="translate(651,526.6) rotate(-90)" text-anchor="end" textLength="35.3" lengthAdjust="spacingAndGlyphs">ДС-13</text>
<text transform="translate(683,526.6) rotate(-90)" text-anchor="end" textLength="35.3" lengthAdjust="spacingAndGlyphs">ДС-14</text>
<text transform="translate(715,526.6) rotate(-90)" text-anchor="end" textLength="27.5" lengthAdjust="spacingAndGlyphs">КВ-6</text>
<text x="441.5" y="37.6" text-anchor="middle" font-size="16" font-weight="bold" textLength="262" lengthAdjust="spacingAndGlyphs">Прохождение этапов экипажами</text>
<text x="440.8" y="58.4" text-anchor="middle" font-size="16" font-weight="bold" textLength="280" lengthAdjust="spacingAndGlyphs">на авторалли "Зимний город-2003"</text>
<text x="395.2" y="580" text-anchor="middle" font-weight="bold" textLength="41" lengthAdjust="spacingAndGlyphs">Этапы</text>
<text transform="translate(29.8,296.3) rotate(-90)" text-anchor="middle" font-weight="bold" textLength="38" lengthAdjust="spacingAndGlyphs">Место</text>
<rect x="738.5" y="51.5" width="220" height="491" fill="#fff" stroke="#000" shape-rendering="crispEdges"/>
<g shape-rendering="crispEdges">
<rect x="744" y="63" width="27" height="1" fill="#000080"/>
<path fill="#000080" d="M757 60h1v1h-1zM756 61h3v1h-3zM755 62h5v1h-5zM755 63h5v1h-5zM755 64h5v1h-5zM756 65h3v1h-3zM757 66h1v1h-1z"/>
<rect x="744" y="84" width="27" height="1" fill="#FF00FF"/>
<path fill="#FF00FF" d="M754 81h6v6h-6z"/>
<rect x="744" y="106" width="27" height="1" fill="#FFFF00"/>
<path fill="#FFFF00" d="M757 103h1v1h-1zM757 104h1v1h-1zM756 105h3v1h-3zM756 106h3v1h-3zM755 107h5v1h-5zM755 108h5v1h-5zM754 109h7v1h-7z"/>
<rect x="744" y="127" width="27" height="1" fill="#00FFFF"/>
<path fill="#00FFFF" d="M755 125h1v1h-1zM755 129h1v1h-1zM756 126h1v1h-1zM756 128h1v1h-1zM757 127h1v1h-1zM758 128h1v1h-1zM758 126h1v1h-1zM759 129h1v1h-1zM759 125h1v1h-1z"/>
<rect x="744" y="148" width="27" height="1" fill="#800080"/>
<path fill="#800080" d="M755 146h1v1h-1zM755 150h1v1h-1zM756 147h1v1h-1zM756 149h1v1h-1zM757 148h1v1h-1zM758 149h1v1h-1zM758 147h1v1h-1zM759 150h1v1h-1zM759 146h1v1h-1zM757 146h1v5h-1z"/>
<rect x="744" y="169" width="27" height="1" fill="#800000"/>
<path fill="#800000" d="M756 166h2v1h-2zM755 167h4v1h-4zM754 168h6v1h-6zM754 169h6v1h-6zM755 170h4v1h-4zM756 171h2v1h-2z"/>
<rect x="744" y="191" width="27" height="1" fill="#008080"/>
<path fill="#008080" d="M757 189h1v5h-1zM755 191h5v1h-5z"/>
<rect x="744" y="212" width="27" height="1" fill="#0000FF"/>
<path fill="#0000FF" d="M757 211h4v2h-4z"/>
<rect x="744" y="233" width="27" height="1" fill="#00CCFF"/>
<path fill="#00CCFF" d="M754 232h7v2h-7z"/>
<rect x="744" y="254" width="27" height="1" fill="#CCFFFF"/>
<path fill="#CCFFFF" d="M757 251h1v1h-1zM756 252h3v1h-3zM755 253h5v1h-5zM755 254h5v1h-5zM755 255h5v1h-5zM756 256h3v1h-3zM757 257h1v1h-1z"/>
<rect x="744" y="276" width="27" height="1" fill="#CCFFCC"/>
<path fill="#CCFFCC" d="M754 273h6v6h-6z"/>
<rect x="744" y="297" width="27" height="1" fill="#FFFF99"/>
<path fill="#FFFF99" d="M757 294h1v1h-1zM757 295h1v1h-1zM756 296h3v1h-3zM756 297h3v1h-3zM755 298h5v1h-5zM755 299h5v1h-5zM754 300h7v1h-7z"/>
<rect x="744" y="318" width="27" height="1" fill="#99CCFF"/>
<path fill="#99CCFF" d="M755 316h1v1h-1zM755 320h1v1h-1zM756 317h1v1h-1zM756 319h1v1h-1zM757 318h1v1h-1zM758 319h1v1h-1zM758 317h1v1h-1zM759 320h1v1h-1zM759 316h1v1h-1z"/>
<rect x="744" y="339" width="27" height="1" fill="#FF99CC"/>
<path fill="#FF99CC" d="M755 337h1v1h-1zM755 341h1v1h-1zM756 338h1v1h-1zM756 340h1v1h-1zM757 339h1v1h-1zM758 340h1v1h-1zM758 338h1v1h-1zM759 341h1v1h-1zM759 337h1v1h-1zM757 337h1v5h-1z"/>
<rect x="744" y="361" width="27" height="1" fill="#CC99FF"/>
<path fill="#CC99FF" d="M756 358h2v1h-2zM755 359h4v1h-4zM754 360h6v1h-6zM754 361h6v1h-6zM755 362h4v1h-4zM756 363h2v1h-2z"/>
<rect x="744" y="382" width="27" height="1" fill="#FFCC99"/>
<path fill="#FFCC99" d="M757 380h1v5h-1zM755 382h5v1h-5z"/>
<rect x="744" y="403" width="27" height="1" fill="#3366FF"/>
<path fill="#3366FF" d="M757 402h4v2h-4z"/>
<rect x="744" y="424" width="27" height="1" fill="#33CCCC"/>
<path fill="#33CCCC" d="M754 423h7v2h-7z"/>
<rect x="744" y="446" width="27" height="1" fill="#99CC00"/>
<path fill="#99CC00" d="M757 443h1v1h-1zM756 444h3v1h-3zM755 445h5v1h-5zM755 446h5v1h-5zM755 447h5v1h-5zM756 448h3v1h-3zM757 449h1v1h-1z"/>
<rect x="744" y="467" width="27" height="1" fill="#FFCC00"/>
<path fill="#FFCC00" d="M754 464h6v6h-6z"/>
<rect x="744" y="488" width="27" height="1" fill="#FF9900"/>
<path fill="#FF9900" d="M757 485h1v1h-1zM757 486h1v1h-1zM756 487h3v1h-3zM756 488h3v1h-3zM755 489h5v1h-5zM755 490h5v1h-5zM754 491h7v1h-7z"/>
<rect x="744" y="509" width="27" height="1" fill="#FF6600"/>
<path fill="#FF6600" d="M755 507h1v1h-1zM755 511h1v1h-1zM756 508h1v1h-1zM756 510h1v1h-1zM757 509h1v1h-1zM758 510h1v1h-1zM758 508h1v1h-1zM759 511h1v1h-1zM759 507h1v1h-1z"/>
<rect x="744" y="531" width="27" height="1" fill="#666699"/>
<path fill="#666699" d="M755 529h1v1h-1zM755 533h1v1h-1zM756 530h1v1h-1zM756 532h1v1h-1zM757 531h1v1h-1zM758 532h1v1h-1zM758 530h1v1h-1zM759 533h1v1h-1zM759 529h1v1h-1zM757 529h1v5h-1z"/>
</g>
<text x="774.3" y="67" textLength="126.0" lengthAdjust="spacingAndGlyphs" xml:space="preserve">Юдин А. <tspan dx="-1.8">,</tspan> Русских С.</text>
<text x="774.3" y="88" textLength="182.0" lengthAdjust="spacingAndGlyphs" xml:space="preserve">Вабищевич В. <tspan dx="-1.8">,</tspan> Вабищевич О.</text>
<text x="774.3" y="110" textLength="149.1" lengthAdjust="spacingAndGlyphs" xml:space="preserve">Артеменко С. <tspan dx="-1.8">,</tspan> Анисов А.</text>
<text x="774.3" y="131" textLength="153.8" lengthAdjust="spacingAndGlyphs" xml:space="preserve">Колупаев И. <tspan dx="-1.8">,</tspan> Степанов А.</text>
<text x="774.3" y="152" textLength="172.0" lengthAdjust="spacingAndGlyphs" xml:space="preserve">Шимаковский А. <tspan dx="-1.8">,</tspan> Дмитрук А.</text>
<text x="774.3" y="173" textLength="176.7" lengthAdjust="spacingAndGlyphs" xml:space="preserve">Артюшевский В. <tspan dx="-1.8">,</tspan> Шаплыко К.</text>
<text x="774.3" y="195" textLength="143.1" lengthAdjust="spacingAndGlyphs" xml:space="preserve">Зайцев А. <tspan dx="-1.8">,</tspan> Смолеков Д.</text>
<text x="774.3" y="216" textLength="169.1" lengthAdjust="spacingAndGlyphs" xml:space="preserve">Данилович А. <tspan dx="-1.8">,</tspan> Данилович Т.</text>
<text x="774.3" y="237" textLength="143.1" lengthAdjust="spacingAndGlyphs" xml:space="preserve">Кукушкин А. <tspan dx="-1.8">,</tspan> Баркан Д.</text>
<text x="774.3" y="258" textLength="155.8" lengthAdjust="spacingAndGlyphs" xml:space="preserve">Авдеенко А. <tspan dx="-1.8">,</tspan> Абрамов Ю.</text>
<text x="774.3" y="280" textLength="158.2" lengthAdjust="spacingAndGlyphs" xml:space="preserve">Тоболин М. <tspan dx="-1.8">,</tspan> Ярошевич Ю.</text>
<text x="774.3" y="301" textLength="168.9" lengthAdjust="spacingAndGlyphs" xml:space="preserve">Шляхтенко А. <tspan dx="-1.8">,</tspan> Шляхтенко П.</text>
<text x="774.3" y="322" textLength="147.0" lengthAdjust="spacingAndGlyphs" xml:space="preserve">Краюшкин С. <tspan dx="-1.8">,</tspan> Мозоль Г.</text>
<text x="774.3" y="343" textLength="160.7" lengthAdjust="spacingAndGlyphs" xml:space="preserve">Смирнов А. <tspan dx="-1.8">,</tspan> Юзефивич  А.</text>
<text x="774.3" y="365" textLength="149.7" lengthAdjust="spacingAndGlyphs" xml:space="preserve">Земляков А. <tspan dx="-1.8">,</tspan> Соловей Р.</text>
<text x="774.3" y="386" textLength="149.1" lengthAdjust="spacingAndGlyphs" xml:space="preserve">Зелинский Ю. <tspan dx="-1.8">,</tspan> Курган А.</text>
<text x="774.3" y="407" textLength="162.8" lengthAdjust="spacingAndGlyphs" xml:space="preserve">Сарасов А. <tspan dx="-1.8">,</tspan> Дубровский В.</text>
<text x="774.3" y="428" textLength="141.9" lengthAdjust="spacingAndGlyphs" xml:space="preserve">Богданов Д. <tspan dx="-1.8">,</tspan> Блохин И.</text>
<text x="774.3" y="450" textLength="173.6" lengthAdjust="spacingAndGlyphs" xml:space="preserve">Запольский А. <tspan dx="-1.8">,</tspan> Коваленко И.</text>
<text x="774.3" y="471" textLength="152.2" lengthAdjust="spacingAndGlyphs" xml:space="preserve">Ржечицкий А. <tspan dx="-1.8">,</tspan> Марчук А.</text>
<text x="774.3" y="492" textLength="150.1" lengthAdjust="spacingAndGlyphs" xml:space="preserve">Воробей С. <tspan dx="-1.8">,</tspan>Травничек В.</text>
<text x="774.3" y="513" textLength="161.4" lengthAdjust="spacingAndGlyphs" xml:space="preserve">Остапенко А. <tspan dx="-1.8">,</tspan> Вольский А.</text>
<text x="774.3" y="535" textLength="148.4" lengthAdjust="spacingAndGlyphs" xml:space="preserve">Дятлов А. <tspan dx="-1.8">,</tspan> Воронович В.</text>
</svg>
</body></html>
